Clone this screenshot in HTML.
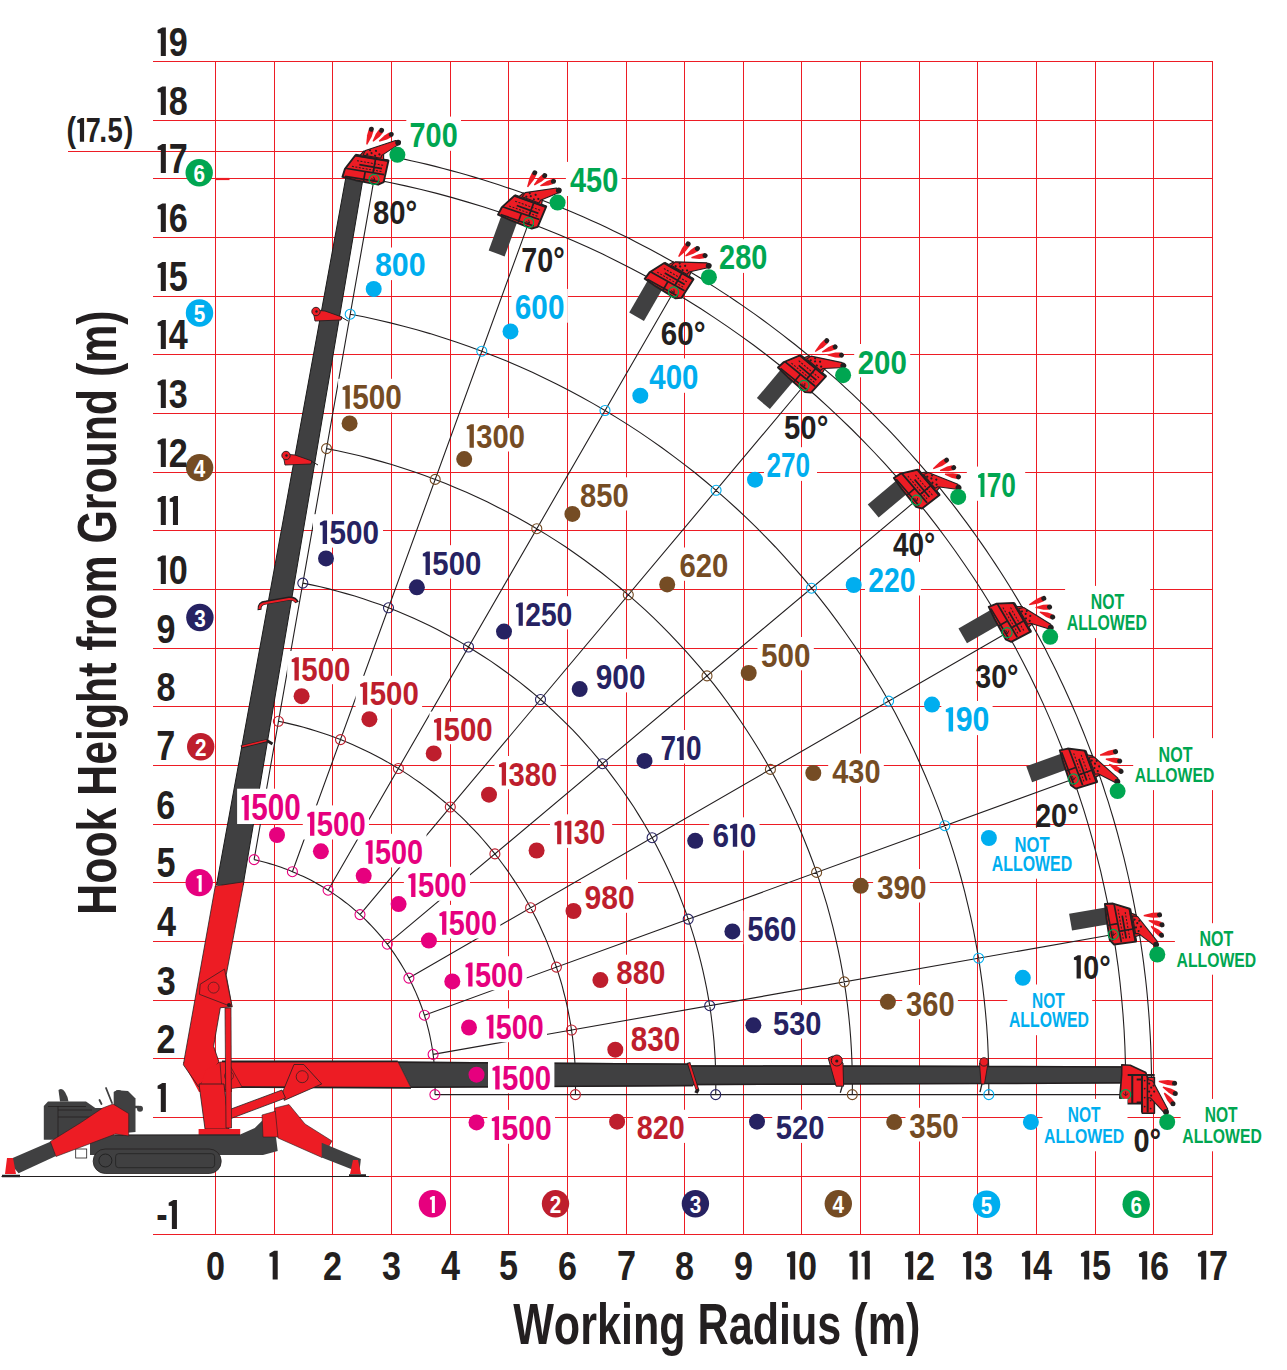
<!DOCTYPE html><html><head><meta charset="utf-8"><style>html,body{margin:0;padding:0;background:#fff;overflow:hidden}svg{display:block}text{font-family:"Liberation Sans",sans-serif;font-weight:bold}</style></head><body><svg width="1287" height="1370" viewBox="0 0 1287 1370" font-family="Liberation Sans, sans-serif" font-weight="bold">
<rect width="1287" height="1370" fill="#fff"/>
<path d="M215.5 61.0V1235.0 M274.5 61.0V1235.0 M332.5 61.0V1235.0 M391.5 61.0V1235.0 M450.5 61.0V1235.0 M508.5 61.0V1235.0 M567.5 61.0V1235.0 M626.5 61.0V1235.0 M684.5 61.0V1235.0 M743.5 61.0V1235.0 M801.5 61.0V1235.0 M860.5 61.0V1235.0 M919.5 61.0V1235.0 M977.5 61.0V1235.0 M1036.5 61.0V1235.0 M1095.5 61.0V1235.0 M1153.5 61.0V1235.0 M1212.5 61.0V1235.0 M153 1234.5H1213.0 M153 1176.5H1213.0 M153 1117.5H1213.0 M153 1058.5H1213.0 M153 1000.5H1213.0 M153 941.5H1213.0 M153 882.5H1213.0 M153 824.5H1213.0 M153 765.5H1213.0 M153 706.5H1213.0 M153 648.5H1213.0 M153 589.5H1213.0 M153 530.5H1213.0 M153 472.5H1213.0 M153 413.5H1213.0 M153 354.5H1213.0 M153 296.5H1213.0 M153 237.5H1213.0 M153 178.5H1213.0 M153 120.5H1213.0 M153 61.5H1213.0 M68 151.5H365" stroke="#ed1c24" stroke-width="1.1" fill="none" shape-rendering="crispEdges"/>
<path d="M215 179H229.5" stroke="#ed1c24" stroke-width="2.2"/>
<path d="M1.5 1176.5H369" stroke="#231f20" stroke-width="1.2"/>
<path d="M434.9 1094.6 L435.1 1090.6 L435.1 1086.5 L435.1 1082.5 L435.1 1078.5 L434.9 1074.5 L434.7 1070.4 L434.4 1066.4 L434.0 1062.4 L433.6 1058.4 L433.1 1054.4 L432.6 1050.4 L431.9 1046.5 L431.2 1042.5 L430.4 1038.5 L429.6 1034.6 L428.7 1030.7 L427.7 1026.8 L426.7 1022.9 L425.5 1019.0 L424.4 1015.2 L423.1 1011.4 L421.8 1007.5 L420.4 1003.8 L419.0 1000.0 L417.4 996.3 L415.9 992.6 L414.2 988.9 L412.5 985.3 L410.7 981.6 L408.9 978.1 L407.0 974.5 L405.1 971.0 L403.0 967.5 L401.0 964.1 L398.8 960.6 L396.6 957.3 L394.4 953.9 L392.1 950.6 L389.7 947.4 L387.3 944.2 L384.8 941.0 L382.2 937.9 L379.6 934.8 L377.0 931.8 L374.3 928.8 L371.5 925.8 L368.7 923.0 L365.9 920.1 L363.0 917.3 L360.0 914.6 L357.0 911.9 L354.0 909.3 L350.9 906.7 L347.8 904.1 L344.6 901.7 L341.4 899.3 L338.1 896.9 L334.8 894.6 L331.5 892.3 L328.1 890.2 L324.7 888.0 L321.2 886.0 L317.7 884.0 L314.2 882.0 L310.7 880.1 L307.1 878.3 L303.5 876.5 L299.8 874.9 L296.1 873.2 L292.4 871.7 L288.7 870.1 L284.9 868.7 L281.1 867.3 L277.3 866.0 L273.5 864.8 L269.6 863.6 L265.8 862.5 L261.9 861.5 L258.0 860.5 L254.1 859.6 M575.4 1094.6 L575.5 1088.1 L575.5 1081.6 L575.4 1075.2 L575.2 1068.7 L574.9 1062.2 L574.4 1055.8 L573.8 1049.3 L573.2 1042.9 L572.4 1036.4 L571.5 1030.0 L570.5 1023.6 L569.3 1017.2 L568.1 1010.9 L566.8 1004.6 L565.3 998.2 L563.7 992.0 L562.1 985.7 L560.3 979.5 L558.4 973.3 L556.4 967.1 L554.3 961.0 L552.0 954.9 L549.7 948.9 L547.3 942.9 L544.8 936.9 L542.1 931.0 L539.4 925.1 L536.6 919.3 L533.6 913.5 L530.6 907.8 L527.4 902.1 L524.2 896.5 L520.9 891.0 L517.4 885.5 L513.9 880.1 L510.3 874.7 L506.6 869.4 L502.8 864.2 L498.9 859.0 L494.9 853.9 L490.8 848.8 L486.6 843.9 L482.4 839.0 L478.1 834.2 L473.6 829.4 L469.1 824.8 L464.6 820.2 L459.9 815.7 L455.2 811.3 L450.3 807.0 L445.5 802.7 L440.5 798.6 L435.5 794.5 L430.4 790.5 L425.2 786.6 L420.0 782.8 L414.6 779.1 L409.3 775.4 L403.8 771.9 L398.4 768.5 L392.8 765.2 L387.2 761.9 L381.5 758.8 L375.8 755.7 L370.0 752.8 L364.2 750.0 L358.3 747.2 L352.4 744.6 L346.5 742.1 L340.5 739.6 L334.4 737.3 L328.3 735.1 L322.2 733.0 L316.0 731.0 L309.9 729.1 L303.6 727.3 L297.4 725.6 L291.1 724.1 L284.8 722.6 L278.4 721.3 M715.7 1094.6 L715.8 1085.7 L715.8 1076.7 L715.5 1067.8 L715.2 1058.9 L714.6 1050.0 L714.0 1041.1 L713.1 1032.2 L712.1 1023.3 L711.0 1014.5 L709.7 1005.7 L708.2 996.9 L706.6 988.1 L704.8 979.3 L702.9 970.6 L700.8 961.9 L698.6 953.3 L696.2 944.7 L693.7 936.1 L691.0 927.6 L688.2 919.1 L685.3 910.7 L682.1 902.4 L678.9 894.0 L675.5 885.8 L671.9 877.6 L668.2 869.5 L664.4 861.4 L660.4 853.4 L656.3 845.5 L652.1 837.7 L647.7 829.9 L643.2 822.2 L638.5 814.6 L633.8 807.0 L628.8 799.6 L623.8 792.2 L618.6 785.0 L613.3 777.8 L607.9 770.7 L602.4 763.7 L596.7 756.8 L590.9 750.0 L585.0 743.3 L579.0 736.7 L572.9 730.2 L566.6 723.9 L560.2 717.6 L553.8 711.4 L547.2 705.4 L540.5 699.5 L533.8 693.7 L526.9 688.0 L519.9 682.4 L512.8 677.0 L505.7 671.7 L498.4 666.5 L491.1 661.4 L483.6 656.5 L476.1 651.7 L468.5 647.0 L460.8 642.4 L453.1 638.0 L445.2 633.8 L437.3 629.6 L429.3 625.6 L421.3 621.8 L413.2 618.1 L405.0 614.5 L396.8 611.1 L388.5 607.8 L380.1 604.6 L371.7 601.7 L363.2 598.8 L354.7 596.1 L346.2 593.6 L337.6 591.2 L328.9 588.9 L320.3 586.8 L311.6 584.9 L302.8 583.1 M852.3 1094.6 L852.4 1083.3 L852.3 1072.0 L851.9 1060.7 L851.4 1049.4 L850.7 1038.1 L849.8 1026.8 L848.7 1015.6 L847.4 1004.3 L845.9 993.1 L844.2 981.9 L842.3 970.8 L840.2 959.7 L837.9 948.6 L835.4 937.6 L832.8 926.6 L829.9 915.6 L826.9 904.7 L823.6 893.9 L820.2 883.1 L816.6 872.4 L812.8 861.8 L808.8 851.2 L804.6 840.7 L800.3 830.2 L795.7 819.9 L791.0 809.6 L786.1 799.4 L781.0 789.3 L775.8 779.3 L770.4 769.4 L764.8 759.5 L759.0 749.8 L753.1 740.2 L747.0 730.7 L740.7 721.2 L734.3 711.9 L727.7 702.7 L721.0 693.7 L714.1 684.7 L707.0 675.9 L699.8 667.2 L692.4 658.6 L684.9 650.2 L677.2 641.8 L669.4 633.6 L661.5 625.6 L653.4 617.7 L645.2 609.9 L636.8 602.3 L628.3 594.8 L619.7 587.5 L611.0 580.4 L602.1 573.3 L593.1 566.5 L584.0 559.8 L574.8 553.2 L565.5 546.8 L556.0 540.6 L546.5 534.6 L536.8 528.7 L527.0 523.0 L517.2 517.4 L507.2 512.1 L497.2 506.9 L487.1 501.8 L476.8 497.0 L466.5 492.3 L456.2 487.9 L445.7 483.6 L435.2 479.4 L424.6 475.5 L413.9 471.8 L403.2 468.2 L392.4 464.8 L381.5 461.6 L370.6 458.6 L359.7 455.8 L348.7 453.2 L337.6 450.8 L326.5 448.6 M988.8 1094.6 L988.8 1080.9 L988.7 1067.2 L988.2 1053.5 L987.6 1039.8 L986.7 1026.2 L985.5 1012.5 L984.1 998.9 L982.5 985.3 L980.6 971.8 L978.6 958.2 L976.2 944.8 L973.7 931.3 L970.9 917.9 L967.8 904.6 L964.6 891.3 L961.1 878.0 L957.4 864.8 L953.4 851.7 L949.2 838.7 L944.8 825.7 L940.2 812.9 L935.3 800.1 L930.2 787.4 L924.9 774.7 L919.4 762.2 L913.7 749.8 L907.7 737.5 L901.5 725.2 L895.2 713.1 L888.6 701.1 L881.8 689.3 L874.7 677.5 L867.5 665.9 L860.1 654.3 L852.5 643.0 L844.7 631.7 L836.7 620.6 L828.5 609.7 L820.1 598.8 L811.5 588.2 L802.8 577.7 L793.8 567.3 L784.7 557.1 L775.4 547.0 L765.9 537.2 L756.3 527.4 L746.5 517.9 L736.5 508.5 L726.4 499.3 L716.1 490.3 L705.6 481.5 L695.0 472.8 L684.2 464.4 L673.3 456.1 L662.3 448.0 L651.1 440.1 L639.8 432.4 L628.3 424.9 L616.7 417.6 L605.0 410.5 L593.2 403.6 L581.3 396.9 L569.2 390.5 L557.0 384.2 L544.7 378.2 L532.3 372.3 L519.9 366.7 L507.3 361.3 L494.6 356.2 L481.8 351.2 L469.0 346.5 L456.1 342.0 L443.1 337.7 L430.0 333.6 L416.8 329.8 L403.6 326.2 L390.4 322.9 L377.0 319.7 L363.7 316.8 L350.2 314.2 M1125.7 1094.6 L1125.7 1078.5 L1125.4 1062.4 L1124.9 1046.4 L1124.1 1030.3 L1123.0 1014.3 L1121.6 998.2 L1120.0 982.2 L1118.1 966.3 L1115.8 950.4 L1113.4 934.5 L1110.6 918.6 L1107.6 902.8 L1104.2 887.1 L1100.7 871.4 L1096.8 855.8 L1092.7 840.3 L1088.3 824.8 L1083.6 809.4 L1078.6 794.1 L1073.4 778.9 L1068.0 763.8 L1062.2 748.8 L1056.2 733.9 L1050.0 719.1 L1043.5 704.4 L1036.7 689.8 L1029.7 675.3 L1022.4 661.0 L1014.9 646.8 L1007.1 632.7 L999.1 618.8 L990.8 605.0 L982.3 591.3 L973.6 577.8 L964.6 564.5 L955.4 551.3 L946.0 538.2 L936.4 525.4 L926.5 512.7 L916.4 500.2 L906.1 487.9 L895.5 475.7 L884.8 463.7 L873.9 452.0 L862.7 440.4 L851.4 429.0 L839.8 417.8 L828.1 406.8 L816.2 396.0 L804.0 385.5 L791.7 375.1 L779.3 365.0 L766.6 355.0 L753.8 345.3 L740.8 335.9 L727.6 326.6 L714.3 317.6 L700.9 308.8 L687.2 300.3 L673.5 292.0 L659.6 283.9 L645.5 276.1 L631.3 268.5 L617.0 261.2 L602.6 254.1 L588.0 247.3 L573.3 240.7 L558.6 234.4 L543.7 228.4 L528.7 222.6 L513.6 217.1 L498.4 211.8 L483.1 206.8 L467.7 202.1 L452.3 197.6 L436.7 193.4 L421.2 189.5 L405.5 185.9 L389.8 182.5 L374.0 179.4 M434.9 1094.6L1125.7 1094.6 M433.1 1054.4L1113.4 934.5 M424.4 1015.2L1073.4 778.9 M408.9 978.1L1007.1 632.7 M387.3 944.2L916.4 500.2 M360.0 914.6L804.0 385.5 M328.1 890.2L673.5 292.0 M292.4 871.7L528.7 222.6 M254.1 859.6L374.0 179.4 M1151.4 1094.8 L1151.5 1086.5 L1151.5 1078.3 L1151.4 1070.0 L1151.2 1061.8 L1151.0 1053.5 L1150.7 1045.2 L1150.3 1037.0 L1149.8 1028.7 L1149.3 1020.5 L1148.7 1012.2 L1148.0 1004.0 L1147.3 995.8 L1146.5 987.5 L1145.6 979.3 L1144.6 971.1 L1143.6 962.9 L1142.5 954.7 L1141.3 946.5 L1140.1 938.4 L1138.8 930.2 L1137.4 922.1 L1135.9 913.9 L1134.4 905.8 L1132.8 897.7 L1131.1 889.6 L1129.4 881.5 L1127.6 873.5 L1125.7 865.4 L1123.8 857.4 L1121.7 849.4 L1119.6 841.4 L1117.5 833.4 L1115.3 825.5 L1113.0 817.5 L1110.6 809.6 L1108.2 801.7 L1105.6 793.8 L1103.1 786.0 L1100.4 778.1 L1097.7 770.3 L1094.9 762.6 L1092.1 754.8 L1089.2 747.1 L1086.2 739.4 L1083.2 731.7 L1080.0 724.0 L1076.9 716.4 L1073.6 708.8 L1070.3 701.2 L1066.9 693.7 L1063.5 686.2 L1059.9 678.7 L1056.4 671.2 L1052.7 663.8 L1049.0 656.4 L1045.3 649.1 L1041.4 641.8 L1037.5 634.5 L1033.6 627.2 L1029.5 620.0 L1025.4 612.8 L1021.3 605.7 L1017.1 598.6 L1012.8 591.5 L1008.5 584.5 L1004.1 577.5 L999.6 570.5 L995.1 563.6 L990.5 556.7 L985.9 549.9 L981.2 543.1 L976.4 536.3 L971.6 529.6 L966.7 522.9 L961.8 516.3 L956.8 509.7 L951.8 503.2 L946.6 496.7 L941.5 490.2 L936.3 483.8 L931.0 477.4 L925.7 471.1 L920.3 464.9 L914.8 458.6 L909.4 452.5 L903.8 446.3 L898.2 440.2 L892.6 434.2 L886.9 428.2 L881.1 422.3 L875.3 416.4 L869.4 410.6 L863.5 404.8 L857.6 399.1 L851.6 393.4 L845.5 387.8 L839.4 382.2 L833.2 376.7 L827.0 371.3 L820.8 365.9 L814.5 360.5 L808.1 355.2 L801.7 350.0 L795.3 344.8 L788.8 339.7 L782.3 334.6 L775.7 329.6 L769.1 324.6 L762.5 319.7 L755.8 314.9 L749.0 310.1 L742.2 305.4 L735.4 300.7 L728.6 296.1 L721.6 291.6 L714.7 287.1 L707.7 282.7 L700.7 278.3 L693.6 274.0 L686.6 269.8 L679.4 265.6 L672.3 261.5 L665.0 257.4 L657.8 253.4 L650.5 249.5 L643.2 245.7 L635.9 241.9 L628.5 238.1 L621.1 234.5 L613.7 230.9 L606.2 227.3 L598.7 223.8 L591.2 220.4 L583.6 217.1 L576.0 213.8 L568.4 210.6 L560.8 207.5 L553.1 204.4 L545.4 201.4 L537.7 198.4 L529.9 195.6 L522.2 192.8 L514.4 190.0 L506.5 187.4 L498.7 184.8 L490.8 182.2 L482.9 179.8 L475.0 177.4 L467.1 175.0 L459.2 172.8 L451.2 170.6 L443.2 168.5 L435.2 166.4 L427.2 164.4 L419.1 162.5 L411.1 160.7 L403.0 158.9 L394.9 157.2" stroke="#231f20" stroke-width="1.1" fill="none"/>
<circle cx="434.9" cy="1094.6" r="5" fill="none" stroke="#e6007e" stroke-width="1.1"/>
<circle cx="433.1" cy="1054.4" r="5" fill="none" stroke="#e6007e" stroke-width="1.1"/>
<circle cx="424.4" cy="1015.2" r="5" fill="none" stroke="#e6007e" stroke-width="1.1"/>
<circle cx="408.9" cy="978.1" r="5" fill="none" stroke="#e6007e" stroke-width="1.1"/>
<circle cx="387.3" cy="944.2" r="5" fill="none" stroke="#e6007e" stroke-width="1.1"/>
<circle cx="360.0" cy="914.6" r="5" fill="none" stroke="#e6007e" stroke-width="1.1"/>
<circle cx="328.1" cy="890.2" r="5" fill="none" stroke="#e6007e" stroke-width="1.1"/>
<circle cx="292.4" cy="871.7" r="5" fill="none" stroke="#e6007e" stroke-width="1.1"/>
<circle cx="254.1" cy="859.6" r="5" fill="none" stroke="#e6007e" stroke-width="1.1"/>
<circle cx="575.4" cy="1094.6" r="5" fill="none" stroke="#be1e2d" stroke-width="1.1"/>
<circle cx="571.5" cy="1030.0" r="5" fill="none" stroke="#be1e2d" stroke-width="1.1"/>
<circle cx="556.4" cy="967.1" r="5" fill="none" stroke="#be1e2d" stroke-width="1.1"/>
<circle cx="530.6" cy="907.8" r="5" fill="none" stroke="#be1e2d" stroke-width="1.1"/>
<circle cx="494.9" cy="853.9" r="5" fill="none" stroke="#be1e2d" stroke-width="1.1"/>
<circle cx="450.3" cy="807.0" r="5" fill="none" stroke="#be1e2d" stroke-width="1.1"/>
<circle cx="398.4" cy="768.5" r="5" fill="none" stroke="#be1e2d" stroke-width="1.1"/>
<circle cx="340.5" cy="739.6" r="5" fill="none" stroke="#be1e2d" stroke-width="1.1"/>
<circle cx="278.4" cy="721.3" r="5" fill="none" stroke="#be1e2d" stroke-width="1.1"/>
<circle cx="715.7" cy="1094.6" r="5" fill="none" stroke="#262262" stroke-width="1.1"/>
<circle cx="709.7" cy="1005.7" r="5" fill="none" stroke="#262262" stroke-width="1.1"/>
<circle cx="688.2" cy="919.1" r="5" fill="none" stroke="#262262" stroke-width="1.1"/>
<circle cx="652.1" cy="837.7" r="5" fill="none" stroke="#262262" stroke-width="1.1"/>
<circle cx="602.4" cy="763.7" r="5" fill="none" stroke="#262262" stroke-width="1.1"/>
<circle cx="540.5" cy="699.5" r="5" fill="none" stroke="#262262" stroke-width="1.1"/>
<circle cx="468.5" cy="647.0" r="5" fill="none" stroke="#262262" stroke-width="1.1"/>
<circle cx="388.5" cy="607.8" r="5" fill="none" stroke="#262262" stroke-width="1.1"/>
<circle cx="302.8" cy="583.1" r="5" fill="none" stroke="#262262" stroke-width="1.1"/>
<circle cx="852.3" cy="1094.6" r="5" fill="none" stroke="#754c24" stroke-width="1.1"/>
<circle cx="844.2" cy="981.9" r="5" fill="none" stroke="#754c24" stroke-width="1.1"/>
<circle cx="816.6" cy="872.4" r="5" fill="none" stroke="#754c24" stroke-width="1.1"/>
<circle cx="770.4" cy="769.4" r="5" fill="none" stroke="#754c24" stroke-width="1.1"/>
<circle cx="707.0" cy="675.9" r="5" fill="none" stroke="#754c24" stroke-width="1.1"/>
<circle cx="628.3" cy="594.8" r="5" fill="none" stroke="#754c24" stroke-width="1.1"/>
<circle cx="536.8" cy="528.7" r="5" fill="none" stroke="#754c24" stroke-width="1.1"/>
<circle cx="435.2" cy="479.4" r="5" fill="none" stroke="#754c24" stroke-width="1.1"/>
<circle cx="326.5" cy="448.6" r="5" fill="none" stroke="#754c24" stroke-width="1.1"/>
<circle cx="988.8" cy="1094.6" r="5" fill="none" stroke="#00aeef" stroke-width="1.1"/>
<circle cx="978.6" cy="958.2" r="5" fill="none" stroke="#00aeef" stroke-width="1.1"/>
<circle cx="944.8" cy="825.7" r="5" fill="none" stroke="#00aeef" stroke-width="1.1"/>
<circle cx="888.6" cy="701.1" r="5" fill="none" stroke="#00aeef" stroke-width="1.1"/>
<circle cx="811.5" cy="588.2" r="5" fill="none" stroke="#00aeef" stroke-width="1.1"/>
<circle cx="716.1" cy="490.3" r="5" fill="none" stroke="#00aeef" stroke-width="1.1"/>
<circle cx="605.0" cy="410.5" r="5" fill="none" stroke="#00aeef" stroke-width="1.1"/>
<circle cx="481.8" cy="351.2" r="5" fill="none" stroke="#00aeef" stroke-width="1.1"/>
<circle cx="350.2" cy="314.2" r="5" fill="none" stroke="#00aeef" stroke-width="1.1"/>
<circle cx="1125.7" cy="1094.6" r="5" fill="none" stroke="#00a651" stroke-width="1.1"/>
<circle cx="1113.4" cy="934.5" r="5" fill="none" stroke="#00a651" stroke-width="1.1"/>
<circle cx="1073.4" cy="778.9" r="5" fill="none" stroke="#00a651" stroke-width="1.1"/>
<circle cx="1007.1" cy="632.7" r="5" fill="none" stroke="#00a651" stroke-width="1.1"/>
<circle cx="916.4" cy="500.2" r="5" fill="none" stroke="#00a651" stroke-width="1.1"/>
<circle cx="804.0" cy="385.5" r="5" fill="none" stroke="#00a651" stroke-width="1.1"/>
<circle cx="673.5" cy="292.0" r="5" fill="none" stroke="#00a651" stroke-width="1.1"/>
<circle cx="528.7" cy="222.6" r="5" fill="none" stroke="#00a651" stroke-width="1.1"/>
<circle cx="374.0" cy="179.4" r="5" fill="none" stroke="#00a651" stroke-width="1.1"/>
<g><polygon points="346.4,174.5 363.2,177.5 243.1,885.0 216.5,885.0" fill="#404041"/><path d="M346.4 174.5 L216.5 885 M363.2 177.5 L243.1 885" stroke="#1a1a1a" stroke-width="1"/><polygon points="313.0,310.0 325.0,311.0 342.0,317.0 341.0,320.0 315.0,321.0" fill="#ed1c24" stroke="#231f20" stroke-width="0.9" stroke-linejoin="round"/><circle cx="316" cy="311.5" r="4.2" fill="#ed1c24" stroke="#231f20" stroke-width="0.9"/><circle cx="316.5" cy="311.5" r="1.2" fill="#231f20"/><path d="M341 317 L348 321" stroke="#231f20" stroke-width="1"/><polygon points="283.0,454.0 295.0,455.0 312.0,461.0 311.0,464.0 285.0,465.0" fill="#ed1c24" stroke="#231f20" stroke-width="0.9" stroke-linejoin="round"/><circle cx="286" cy="455.5" r="4.2" fill="#ed1c24" stroke="#231f20" stroke-width="0.9"/><circle cx="286.5" cy="455.5" r="1.2" fill="#231f20"/><path d="M311 461 L318 465" stroke="#231f20" stroke-width="1"/><path d="M259.5 610 Q259 603 266 602.5 L289 598.5 Q295 598 297 602.5" fill="none" stroke="#231f20" stroke-width="4"/><path d="M259.5 609 Q259.5 603.5 266 603 L289 599 Q294.5 598.8 296 602" fill="none" stroke="#ed1c24" stroke-width="2.2"/><path d="M241 747 L267 740.5 L272.5 744" fill="none" stroke="#231f20" stroke-width="3"/><path d="M242 746.5 L266.5 740.5" fill="none" stroke="#ed1c24" stroke-width="1.6"/><polygon points="183.0,1062.0 232.0,1062.0 232.0,1092.0 199.0,1092.0" fill="#ed1c24"/><polygon points="215.3,886.0 243.9,881.8 226.2,975.0 232.1,1006.9 220.3,1007.7 213.6,1046.3 219.0,1062.0 198.5,1086.7 183.4,1064.8 185.1,1054.7" fill="#ed1c24" stroke="#231f20" stroke-width="0.8" stroke-linejoin="round"/><polygon points="200.2,984.2 224.5,969.1 232.1,1006.9 199.4,994.3" fill="#ed1c24" stroke="#231f20" stroke-width="0.7" stroke-linejoin="round"/><circle cx="213.6" cy="987.6" r="5.5" fill="none" stroke="#231f20" stroke-width="0.6"/><circle cx="229" cy="1005" r="2" fill="#231f20"/><polygon points="397.8,1061.4 690.0,1063.6 690.0,1065.3 835.0,1065.3 985.0,1065.8 985.0,1066.3 1121.8,1066.3 1121.8,1083.4 985.0,1083.4 985.0,1084.0 835.0,1084.2 835.0,1085.0 693.0,1085.2 693.0,1086.2 411.0,1087.8" fill="#404041"/><path d="M397.8 1062.2 L690 1064.3 M690 1066 L985 1066.5 L1121.8 1067 M411 1087.2 L693 1085.6 M693 1084.6 L985 1083.6 L1121.8 1082.8" stroke="#231f20" stroke-width="1.5" fill="none"/><path d="M688.5 1062.5 L697.5 1090 L696 1093" stroke="#231f20" stroke-width="3.6" fill="none"/><path d="M689 1063.5 L697 1089" stroke="#ed1c24" stroke-width="2" fill="none"/><polygon points="828.2,1058.0 833.0,1056.0 843.0,1063.0 843.6,1086.2 836.1,1086.2" fill="#ed1c24" stroke="#231f20" stroke-width="1" stroke-linejoin="round"/><circle cx="836.8" cy="1060.5" r="5.5" fill="#ed1c24" stroke="#231f20" stroke-width="1"/><circle cx="836.8" cy="1061" r="1.6" fill="#231f20"/><path d="M842.2 1086.2 L840.3 1092.7" stroke="#231f20" stroke-width="1.3"/><polygon points="979.5,1063.0 988.0,1063.0 984.5,1084.0 981.0,1084.0" fill="#ed1c24" stroke="#231f20" stroke-width="0.9" stroke-linejoin="round"/><circle cx="984" cy="1061.9" r="4.2" fill="#ed1c24" stroke="#231f20" stroke-width="0.9"/><path d="M981.9 1084 L980 1092.2" stroke="#231f20" stroke-width="1.3"/><polygon points="222.0,1061.5 397.8,1061.4 411.0,1087.8 200.0,1087.5 206.0,1070.0" fill="#ed1c24"/><path d="M222 1061.5 L397.8 1061.4 M214.5 1087 L411 1087.8" stroke="#231f20" stroke-width="1.8"/><path d="M397.8 1061.4 L411 1087.8" stroke="#231f20" stroke-width="0.8"/><polygon points="294.0,1064.5 303.8,1064.5 321.7,1084.0 284.2,1100.4 282.6,1092.2" fill="#ed1c24" stroke="#231f20" stroke-width="0.8" stroke-linejoin="round"/><circle cx="302.2" cy="1076.7" r="6" fill="none" stroke="#231f20" stroke-width="0.7"/><polygon points="220.0,1062.0 228.0,1062.0 242.0,1087.0 222.0,1090.0" fill="#ed1c24" stroke="#231f20" stroke-width="0.6" stroke-linejoin="round"/><circle cx="229" cy="1076" r="4.5" fill="none" stroke="#231f20" stroke-width="0.6"/><polygon points="223.0,1112.0 282.0,1090.0 285.5,1098.0 227.0,1120.0" fill="#ed1c24" stroke="#231f20" stroke-width="0.8" stroke-linejoin="round"/><polygon points="199.0,1084.0 224.0,1084.0 229.0,1129.0 205.0,1129.0" fill="#ed1c24" stroke="#231f20" stroke-width="0.8" stroke-linejoin="round"/><polygon points="198.6,1128.9 240.2,1128.9 240.2,1135.5 198.6,1135.5" fill="#ed1c24"/><polygon points="225.0,1008.0 231.0,1008.0 231.5,1128.0 226.0,1128.0" fill="#ed1c24" stroke="#231f20" stroke-width="0.7" stroke-linejoin="round"/><polygon points="90.0,1135.0 240.2,1134.6 254.8,1128.1 264.6,1118.3 276.1,1137.9 277.7,1151.0 263.0,1155.0 90.0,1155.0" fill="#404041"/><path d="M115 1135 H240" stroke="#231f20" stroke-width="1"/><rect x="93.2" y="1149" width="128" height="24.5" rx="12" fill="#404041" stroke="#231f20" stroke-width="0.8"/><rect x="115.6" y="1153.7" width="99" height="14" rx="3" fill="none" stroke="#222" stroke-width="0.8"/><circle cx="105.4" cy="1160.5" r="6.5" fill="none" stroke="#222" stroke-width="1"/><path d="M43.8 1106 L48 1101.4 H86 L95.3 1108 H114 V1139.7 H43.8 Z" fill="#404041"/><path d="M58.5 1090 Q62 1087 65 1092 Q68 1097 68.5 1101.5 L60 1101.5 Z" fill="#404041"/><path d="M48 1106.5 H86 M58 1110 H92 M58 1117 H96 M58 1106 V1140" stroke="#231f20" stroke-width="0.8" fill="none"/><polygon points="113.7,1092.0 117.0,1090.3 128.0,1091.0 135.5,1098.6 135.5,1132.0 113.7,1134.0" fill="#404041"/><circle cx="118.5" cy="1094.5" r="4.5" fill="#404041"/><path d="M135 1107 H139" stroke="#404041" stroke-width="2.5"/><circle cx="140" cy="1108.8" r="3" fill="#404041"/><path d="M106 1088 L112 1103 M99.5 1100 L101.5 1104" stroke="#404041" stroke-width="1.8" stroke-linecap="round"/><rect x="75.7" y="1149" width="11" height="9" fill="#fff" stroke="#231f20" stroke-width="0.8"/><polygon points="7.5,1160.2 52.0,1141.0 56.0,1156.0 18.6,1173.2" fill="#404041"/><polygon points="50.3,1141.5 80.2,1123.0 102.6,1108.0 113.0,1104.0 128.7,1113.6 128.7,1136.0 115.6,1134.0 56.0,1156.5" fill="#ed1c24" stroke="#231f20" stroke-width="0.6" stroke-linejoin="round"/><polygon points="7.0,1158.0 13.0,1158.0 16.0,1174.0 5.0,1174.0" fill="#ed1c24"/><path d="M2 1176 H20" stroke="#231f20" stroke-width="2.5"/><polygon points="262.0,1115.0 276.0,1111.0 279.0,1137.0 263.0,1137.0" fill="#ed1c24" stroke="#231f20" stroke-width="0.6" stroke-linejoin="round"/><polygon points="275.0,1108.0 289.0,1104.5 305.0,1124.0 332.0,1141.0 322.0,1157.5 278.0,1138.0" fill="#ed1c24" stroke="#231f20" stroke-width="0.6" stroke-linejoin="round"/><polygon points="321.7,1142.8 360.9,1159.1 359.3,1172.2 321.7,1157.5" fill="#404041"/><polygon points="353.0,1160.0 358.0,1160.0 361.0,1174.0 350.0,1174.0" fill="#ed1c24"/><path d="M349 1175.5 H366" stroke="#231f20" stroke-width="2.5"/><g transform="translate(373.99,179.39) rotate(-80)"><polygon points="-3.0,-31.5 5.0,-30.5 20.5,-22.5 21.0,11.0 -1.0,10.0 -4.5,5.0 -4.0,-18.0" fill="#ed1c24" stroke="#231f20" stroke-width="1.9" stroke-linejoin="round"/><polygon points="5.5,-29.0 19.5,-21.5 20.0,-18.0 7.0,-18.0" fill="#ed1c24"/><path d="M6 -30 L6.5 9 M-3.5 -10 L6 -10 M12 -17 L12 6 M6 -2 H20 M-2 -29 L-1.5 6" stroke="#231f20" stroke-width="1.7" fill="none"/><path d="M9 -24 V7 M15.5 -20 V8" stroke="#231f20" stroke-width="1" stroke-dasharray="2 1.5" fill="none"/><path d="M20.7 -22.5 L20.9 11" stroke="#231f20" stroke-width="2.6" fill="none"/><polygon points="21.0,-18.0 26.0,-15.0 27.0,5.0 21.0,6.0" fill="#ed1c24" stroke="#231f20" stroke-width="1.2" stroke-linejoin="round"/><path d="M23.5 -14 V3 M21.5 -6 H27" stroke="#231f20" stroke-width="0.9" stroke-dasharray="1.5 1.5" fill="none"/><polygon points="22.0,-15.0 27.0,-13.5 42.0,14.5 39.5,19.2 36.6,16.0 25.0,3.5 22.0,3.0" fill="#ed1c24" stroke="#231f20" stroke-width="1.1" stroke-linejoin="round"/><circle cx="23.5" cy="-11" r="1.1" fill="#231f20"/><circle cx="25.5" cy="-7" r="1.1" fill="#231f20"/><circle cx="23.5" cy="-3" r="1.1" fill="#231f20"/><circle cx="25.5" cy="1" r="1.1" fill="#231f20"/><circle cx="28" cy="-9" r="1.1" fill="#231f20"/><circle cx="28.5" cy="-3" r="1.1" fill="#231f20"/><circle cx="40.4" cy="17.4" r="2.9" fill="#231f20"/><polygon points="33.0,-12.6 41.7,-9.7 47.6,-8.9 48.2,-13.9 42.3,-14.5 33.2,-13.8" fill="#ed1c24"/><circle cx="48.9" cy="-11.3" r="2.5" fill="#231f20"/><polygon points="36.9,-7.1 43.0,-1.8 47.5,0.8 49.9,-3.8 45.2,-6.1 37.5,-8.1" fill="#ed1c24"/><circle cx="49.6" cy="-1.0" r="2.5" fill="#231f20"/><polygon points="38.1,-1.2 41.6,5.9 44.7,10.0 48.7,6.8 45.3,2.9 39.1,-2.0" fill="#ed1c24"/><circle cx="47.3" cy="9.2" r="2.5" fill="#231f20"/><circle cx="0" cy="0" r="5" fill="none" stroke="#00a651" stroke-width="1.2"/><path d="M-2.5 -1 L0 1 L2.5 -1 M0 1 V-3" stroke="#231f20" stroke-width="0.8" fill="none"/></g><g transform="translate(528.66,222.58) rotate(-70)"><polygon points="-40.0,-28.0 -40.0,-11.0 -3.0,-11.0 -3.0,-28.0" fill="#404041"/><polygon points="-3.0,-31.5 5.0,-30.5 20.5,-22.5 21.0,11.0 -1.0,10.0 -4.5,5.0 -4.0,-18.0" fill="#ed1c24" stroke="#231f20" stroke-width="1.9" stroke-linejoin="round"/><polygon points="5.5,-29.0 19.5,-21.5 20.0,-18.0 7.0,-18.0" fill="#ed1c24"/><path d="M6 -30 L6.5 9 M-3.5 -10 L6 -10 M12 -17 L12 6 M6 -2 H20 M-2 -29 L-1.5 6" stroke="#231f20" stroke-width="1.7" fill="none"/><path d="M9 -24 V7 M15.5 -20 V8" stroke="#231f20" stroke-width="1" stroke-dasharray="2 1.5" fill="none"/><path d="M20.7 -22.5 L20.9 11" stroke="#231f20" stroke-width="2.6" fill="none"/><polygon points="21.0,-18.0 26.0,-15.0 27.0,5.0 21.0,6.0" fill="#ed1c24" stroke="#231f20" stroke-width="1.2" stroke-linejoin="round"/><path d="M23.5 -14 V3 M21.5 -6 H27" stroke="#231f20" stroke-width="0.9" stroke-dasharray="1.5 1.5" fill="none"/><polygon points="22.0,-15.0 27.0,-13.5 42.0,14.5 39.5,19.2 36.6,16.0 25.0,3.5 22.0,3.0" fill="#ed1c24" stroke="#231f20" stroke-width="1.1" stroke-linejoin="round"/><circle cx="23.5" cy="-11" r="1.1" fill="#231f20"/><circle cx="25.5" cy="-7" r="1.1" fill="#231f20"/><circle cx="23.5" cy="-3" r="1.1" fill="#231f20"/><circle cx="25.5" cy="1" r="1.1" fill="#231f20"/><circle cx="28" cy="-9" r="1.1" fill="#231f20"/><circle cx="28.5" cy="-3" r="1.1" fill="#231f20"/><circle cx="40.4" cy="17.4" r="2.9" fill="#231f20"/><polygon points="33.0,-12.6 41.7,-9.7 47.6,-8.9 48.2,-13.9 42.3,-14.5 33.2,-13.8" fill="#ed1c24"/><circle cx="48.9" cy="-11.3" r="2.5" fill="#231f20"/><polygon points="36.9,-7.1 43.0,-1.8 47.5,0.8 49.9,-3.8 45.2,-6.1 37.5,-8.1" fill="#ed1c24"/><circle cx="49.6" cy="-1.0" r="2.5" fill="#231f20"/><polygon points="38.1,-1.2 41.6,5.9 44.7,10.0 48.7,6.8 45.3,2.9 39.1,-2.0" fill="#ed1c24"/><circle cx="47.3" cy="9.2" r="2.5" fill="#231f20"/><circle cx="0" cy="0" r="5" fill="none" stroke="#00a651" stroke-width="1.2"/><path d="M-2.5 -1 L0 1 L2.5 -1 M0 1 V-3" stroke="#231f20" stroke-width="0.8" fill="none"/></g><g transform="translate(673.47,291.97) rotate(-60)"><polygon points="-40.0,-28.0 -40.0,-11.0 -3.0,-11.0 -3.0,-28.0" fill="#404041"/><polygon points="-3.0,-31.5 5.0,-30.5 20.5,-22.5 21.0,11.0 -1.0,10.0 -4.5,5.0 -4.0,-18.0" fill="#ed1c24" stroke="#231f20" stroke-width="1.9" stroke-linejoin="round"/><polygon points="5.5,-29.0 19.5,-21.5 20.0,-18.0 7.0,-18.0" fill="#ed1c24"/><path d="M6 -30 L6.5 9 M-3.5 -10 L6 -10 M12 -17 L12 6 M6 -2 H20 M-2 -29 L-1.5 6" stroke="#231f20" stroke-width="1.7" fill="none"/><path d="M9 -24 V7 M15.5 -20 V8" stroke="#231f20" stroke-width="1" stroke-dasharray="2 1.5" fill="none"/><path d="M20.7 -22.5 L20.9 11" stroke="#231f20" stroke-width="2.6" fill="none"/><polygon points="21.0,-18.0 26.0,-15.0 27.0,5.0 21.0,6.0" fill="#ed1c24" stroke="#231f20" stroke-width="1.2" stroke-linejoin="round"/><path d="M23.5 -14 V3 M21.5 -6 H27" stroke="#231f20" stroke-width="0.9" stroke-dasharray="1.5 1.5" fill="none"/><polygon points="22.0,-15.0 27.0,-13.5 42.0,14.5 39.5,19.2 36.6,16.0 25.0,3.5 22.0,3.0" fill="#ed1c24" stroke="#231f20" stroke-width="1.1" stroke-linejoin="round"/><circle cx="23.5" cy="-11" r="1.1" fill="#231f20"/><circle cx="25.5" cy="-7" r="1.1" fill="#231f20"/><circle cx="23.5" cy="-3" r="1.1" fill="#231f20"/><circle cx="25.5" cy="1" r="1.1" fill="#231f20"/><circle cx="28" cy="-9" r="1.1" fill="#231f20"/><circle cx="28.5" cy="-3" r="1.1" fill="#231f20"/><circle cx="40.4" cy="17.4" r="2.9" fill="#231f20"/><polygon points="33.0,-12.6 41.7,-9.7 47.6,-8.9 48.2,-13.9 42.3,-14.5 33.2,-13.8" fill="#ed1c24"/><circle cx="48.9" cy="-11.3" r="2.5" fill="#231f20"/><polygon points="36.9,-7.1 43.0,-1.8 47.5,0.8 49.9,-3.8 45.2,-6.1 37.5,-8.1" fill="#ed1c24"/><circle cx="49.6" cy="-1.0" r="2.5" fill="#231f20"/><polygon points="38.1,-1.2 41.6,5.9 44.7,10.0 48.7,6.8 45.3,2.9 39.1,-2.0" fill="#ed1c24"/><circle cx="47.3" cy="9.2" r="2.5" fill="#231f20"/><circle cx="0" cy="0" r="5" fill="none" stroke="#00a651" stroke-width="1.2"/><path d="M-2.5 -1 L0 1 L2.5 -1 M0 1 V-3" stroke="#231f20" stroke-width="0.8" fill="none"/></g><g transform="translate(804.04,385.45) rotate(-50)"><polygon points="-40.0,-28.0 -40.0,-11.0 -3.0,-11.0 -3.0,-28.0" fill="#404041"/><polygon points="-3.0,-31.5 5.0,-30.5 20.5,-22.5 21.0,11.0 -1.0,10.0 -4.5,5.0 -4.0,-18.0" fill="#ed1c24" stroke="#231f20" stroke-width="1.9" stroke-linejoin="round"/><polygon points="5.5,-29.0 19.5,-21.5 20.0,-18.0 7.0,-18.0" fill="#ed1c24"/><path d="M6 -30 L6.5 9 M-3.5 -10 L6 -10 M12 -17 L12 6 M6 -2 H20 M-2 -29 L-1.5 6" stroke="#231f20" stroke-width="1.7" fill="none"/><path d="M9 -24 V7 M15.5 -20 V8" stroke="#231f20" stroke-width="1" stroke-dasharray="2 1.5" fill="none"/><path d="M20.7 -22.5 L20.9 11" stroke="#231f20" stroke-width="2.6" fill="none"/><polygon points="21.0,-18.0 26.0,-15.0 27.0,5.0 21.0,6.0" fill="#ed1c24" stroke="#231f20" stroke-width="1.2" stroke-linejoin="round"/><path d="M23.5 -14 V3 M21.5 -6 H27" stroke="#231f20" stroke-width="0.9" stroke-dasharray="1.5 1.5" fill="none"/><polygon points="22.0,-15.0 27.0,-13.5 42.0,14.5 39.5,19.2 36.6,16.0 25.0,3.5 22.0,3.0" fill="#ed1c24" stroke="#231f20" stroke-width="1.1" stroke-linejoin="round"/><circle cx="23.5" cy="-11" r="1.1" fill="#231f20"/><circle cx="25.5" cy="-7" r="1.1" fill="#231f20"/><circle cx="23.5" cy="-3" r="1.1" fill="#231f20"/><circle cx="25.5" cy="1" r="1.1" fill="#231f20"/><circle cx="28" cy="-9" r="1.1" fill="#231f20"/><circle cx="28.5" cy="-3" r="1.1" fill="#231f20"/><circle cx="40.4" cy="17.4" r="2.9" fill="#231f20"/><polygon points="33.0,-12.6 41.7,-9.7 47.6,-8.9 48.2,-13.9 42.3,-14.5 33.2,-13.8" fill="#ed1c24"/><circle cx="48.9" cy="-11.3" r="2.5" fill="#231f20"/><polygon points="36.9,-7.1 43.0,-1.8 47.5,0.8 49.9,-3.8 45.2,-6.1 37.5,-8.1" fill="#ed1c24"/><circle cx="49.6" cy="-1.0" r="2.5" fill="#231f20"/><polygon points="38.1,-1.2 41.6,5.9 44.7,10.0 48.7,6.8 45.3,2.9 39.1,-2.0" fill="#ed1c24"/><circle cx="47.3" cy="9.2" r="2.5" fill="#231f20"/><circle cx="0" cy="0" r="5" fill="none" stroke="#00a651" stroke-width="1.2"/><path d="M-2.5 -1 L0 1 L2.5 -1 M0 1 V-3" stroke="#231f20" stroke-width="0.8" fill="none"/></g><g transform="translate(916.38,500.19) rotate(-40)"><polygon points="-40.0,-28.0 -40.0,-11.0 -3.0,-11.0 -3.0,-28.0" fill="#404041"/><polygon points="-3.0,-31.5 5.0,-30.5 20.5,-22.5 21.0,11.0 -1.0,10.0 -4.5,5.0 -4.0,-18.0" fill="#ed1c24" stroke="#231f20" stroke-width="1.9" stroke-linejoin="round"/><polygon points="5.5,-29.0 19.5,-21.5 20.0,-18.0 7.0,-18.0" fill="#ed1c24"/><path d="M6 -30 L6.5 9 M-3.5 -10 L6 -10 M12 -17 L12 6 M6 -2 H20 M-2 -29 L-1.5 6" stroke="#231f20" stroke-width="1.7" fill="none"/><path d="M9 -24 V7 M15.5 -20 V8" stroke="#231f20" stroke-width="1" stroke-dasharray="2 1.5" fill="none"/><path d="M20.7 -22.5 L20.9 11" stroke="#231f20" stroke-width="2.6" fill="none"/><polygon points="21.0,-18.0 26.0,-15.0 27.0,5.0 21.0,6.0" fill="#ed1c24" stroke="#231f20" stroke-width="1.2" stroke-linejoin="round"/><path d="M23.5 -14 V3 M21.5 -6 H27" stroke="#231f20" stroke-width="0.9" stroke-dasharray="1.5 1.5" fill="none"/><polygon points="22.0,-15.0 27.0,-13.5 42.0,14.5 39.5,19.2 36.6,16.0 25.0,3.5 22.0,3.0" fill="#ed1c24" stroke="#231f20" stroke-width="1.1" stroke-linejoin="round"/><circle cx="23.5" cy="-11" r="1.1" fill="#231f20"/><circle cx="25.5" cy="-7" r="1.1" fill="#231f20"/><circle cx="23.5" cy="-3" r="1.1" fill="#231f20"/><circle cx="25.5" cy="1" r="1.1" fill="#231f20"/><circle cx="28" cy="-9" r="1.1" fill="#231f20"/><circle cx="28.5" cy="-3" r="1.1" fill="#231f20"/><circle cx="40.4" cy="17.4" r="2.9" fill="#231f20"/><polygon points="33.0,-12.6 41.7,-9.7 47.6,-8.9 48.2,-13.9 42.3,-14.5 33.2,-13.8" fill="#ed1c24"/><circle cx="48.9" cy="-11.3" r="2.5" fill="#231f20"/><polygon points="36.9,-7.1 43.0,-1.8 47.5,0.8 49.9,-3.8 45.2,-6.1 37.5,-8.1" fill="#ed1c24"/><circle cx="49.6" cy="-1.0" r="2.5" fill="#231f20"/><polygon points="38.1,-1.2 41.6,5.9 44.7,10.0 48.7,6.8 45.3,2.9 39.1,-2.0" fill="#ed1c24"/><circle cx="47.3" cy="9.2" r="2.5" fill="#231f20"/><circle cx="0" cy="0" r="5" fill="none" stroke="#00a651" stroke-width="1.2"/><path d="M-2.5 -1 L0 1 L2.5 -1 M0 1 V-3" stroke="#231f20" stroke-width="0.8" fill="none"/></g><g transform="translate(1007.10,632.69) rotate(-30)"><polygon points="-40.0,-28.0 -40.0,-11.0 -3.0,-11.0 -3.0,-28.0" fill="#404041"/><polygon points="-3.0,-31.5 5.0,-30.5 20.5,-22.5 21.0,11.0 -1.0,10.0 -4.5,5.0 -4.0,-18.0" fill="#ed1c24" stroke="#231f20" stroke-width="1.9" stroke-linejoin="round"/><polygon points="5.5,-29.0 19.5,-21.5 20.0,-18.0 7.0,-18.0" fill="#ed1c24"/><path d="M6 -30 L6.5 9 M-3.5 -10 L6 -10 M12 -17 L12 6 M6 -2 H20 M-2 -29 L-1.5 6" stroke="#231f20" stroke-width="1.7" fill="none"/><path d="M9 -24 V7 M15.5 -20 V8" stroke="#231f20" stroke-width="1" stroke-dasharray="2 1.5" fill="none"/><path d="M20.7 -22.5 L20.9 11" stroke="#231f20" stroke-width="2.6" fill="none"/><polygon points="21.0,-18.0 26.0,-15.0 27.0,5.0 21.0,6.0" fill="#ed1c24" stroke="#231f20" stroke-width="1.2" stroke-linejoin="round"/><path d="M23.5 -14 V3 M21.5 -6 H27" stroke="#231f20" stroke-width="0.9" stroke-dasharray="1.5 1.5" fill="none"/><polygon points="22.0,-15.0 27.0,-13.5 42.0,14.5 39.5,19.2 36.6,16.0 25.0,3.5 22.0,3.0" fill="#ed1c24" stroke="#231f20" stroke-width="1.1" stroke-linejoin="round"/><circle cx="23.5" cy="-11" r="1.1" fill="#231f20"/><circle cx="25.5" cy="-7" r="1.1" fill="#231f20"/><circle cx="23.5" cy="-3" r="1.1" fill="#231f20"/><circle cx="25.5" cy="1" r="1.1" fill="#231f20"/><circle cx="28" cy="-9" r="1.1" fill="#231f20"/><circle cx="28.5" cy="-3" r="1.1" fill="#231f20"/><circle cx="40.4" cy="17.4" r="2.9" fill="#231f20"/><polygon points="33.0,-12.6 41.7,-9.7 47.6,-8.9 48.2,-13.9 42.3,-14.5 33.2,-13.8" fill="#ed1c24"/><circle cx="48.9" cy="-11.3" r="2.5" fill="#231f20"/><polygon points="36.9,-7.1 43.0,-1.8 47.5,0.8 49.9,-3.8 45.2,-6.1 37.5,-8.1" fill="#ed1c24"/><circle cx="49.6" cy="-1.0" r="2.5" fill="#231f20"/><polygon points="38.1,-1.2 41.6,5.9 44.7,10.0 48.7,6.8 45.3,2.9 39.1,-2.0" fill="#ed1c24"/><circle cx="47.3" cy="9.2" r="2.5" fill="#231f20"/><circle cx="0" cy="0" r="5" fill="none" stroke="#00a651" stroke-width="1.2"/><path d="M-2.5 -1 L0 1 L2.5 -1 M0 1 V-3" stroke="#231f20" stroke-width="0.8" fill="none"/></g><g transform="translate(1073.43,778.93) rotate(-20)"><polygon points="-40.0,-28.0 -40.0,-11.0 -3.0,-11.0 -3.0,-28.0" fill="#404041"/><polygon points="-3.0,-31.5 5.0,-30.5 20.5,-22.5 21.0,11.0 -1.0,10.0 -4.5,5.0 -4.0,-18.0" fill="#ed1c24" stroke="#231f20" stroke-width="1.9" stroke-linejoin="round"/><polygon points="5.5,-29.0 19.5,-21.5 20.0,-18.0 7.0,-18.0" fill="#ed1c24"/><path d="M6 -30 L6.5 9 M-3.5 -10 L6 -10 M12 -17 L12 6 M6 -2 H20 M-2 -29 L-1.5 6" stroke="#231f20" stroke-width="1.7" fill="none"/><path d="M9 -24 V7 M15.5 -20 V8" stroke="#231f20" stroke-width="1" stroke-dasharray="2 1.5" fill="none"/><path d="M20.7 -22.5 L20.9 11" stroke="#231f20" stroke-width="2.6" fill="none"/><polygon points="21.0,-18.0 26.0,-15.0 27.0,5.0 21.0,6.0" fill="#ed1c24" stroke="#231f20" stroke-width="1.2" stroke-linejoin="round"/><path d="M23.5 -14 V3 M21.5 -6 H27" stroke="#231f20" stroke-width="0.9" stroke-dasharray="1.5 1.5" fill="none"/><polygon points="22.0,-15.0 27.0,-13.5 42.0,14.5 39.5,19.2 36.6,16.0 25.0,3.5 22.0,3.0" fill="#ed1c24" stroke="#231f20" stroke-width="1.1" stroke-linejoin="round"/><circle cx="23.5" cy="-11" r="1.1" fill="#231f20"/><circle cx="25.5" cy="-7" r="1.1" fill="#231f20"/><circle cx="23.5" cy="-3" r="1.1" fill="#231f20"/><circle cx="25.5" cy="1" r="1.1" fill="#231f20"/><circle cx="28" cy="-9" r="1.1" fill="#231f20"/><circle cx="28.5" cy="-3" r="1.1" fill="#231f20"/><circle cx="40.4" cy="17.4" r="2.9" fill="#231f20"/><polygon points="33.0,-12.6 41.7,-9.7 47.6,-8.9 48.2,-13.9 42.3,-14.5 33.2,-13.8" fill="#ed1c24"/><circle cx="48.9" cy="-11.3" r="2.5" fill="#231f20"/><polygon points="36.9,-7.1 43.0,-1.8 47.5,0.8 49.9,-3.8 45.2,-6.1 37.5,-8.1" fill="#ed1c24"/><circle cx="49.6" cy="-1.0" r="2.5" fill="#231f20"/><polygon points="38.1,-1.2 41.6,5.9 44.7,10.0 48.7,6.8 45.3,2.9 39.1,-2.0" fill="#ed1c24"/><circle cx="47.3" cy="9.2" r="2.5" fill="#231f20"/><circle cx="0" cy="0" r="5" fill="none" stroke="#00a651" stroke-width="1.2"/><path d="M-2.5 -1 L0 1 L2.5 -1 M0 1 V-3" stroke="#231f20" stroke-width="0.8" fill="none"/></g><g transform="translate(1113.36,934.47) rotate(-10)"><polygon points="-40.0,-28.0 -40.0,-11.0 -3.0,-11.0 -3.0,-28.0" fill="#404041"/><polygon points="-3.0,-31.5 5.0,-30.5 20.5,-22.5 21.0,11.0 -1.0,10.0 -4.5,5.0 -4.0,-18.0" fill="#ed1c24" stroke="#231f20" stroke-width="1.9" stroke-linejoin="round"/><polygon points="5.5,-29.0 19.5,-21.5 20.0,-18.0 7.0,-18.0" fill="#ed1c24"/><path d="M6 -30 L6.5 9 M-3.5 -10 L6 -10 M12 -17 L12 6 M6 -2 H20 M-2 -29 L-1.5 6" stroke="#231f20" stroke-width="1.7" fill="none"/><path d="M9 -24 V7 M15.5 -20 V8" stroke="#231f20" stroke-width="1" stroke-dasharray="2 1.5" fill="none"/><path d="M20.7 -22.5 L20.9 11" stroke="#231f20" stroke-width="2.6" fill="none"/><polygon points="21.0,-18.0 26.0,-15.0 27.0,5.0 21.0,6.0" fill="#ed1c24" stroke="#231f20" stroke-width="1.2" stroke-linejoin="round"/><path d="M23.5 -14 V3 M21.5 -6 H27" stroke="#231f20" stroke-width="0.9" stroke-dasharray="1.5 1.5" fill="none"/><polygon points="22.0,-15.0 27.0,-13.5 42.0,14.5 39.5,19.2 36.6,16.0 25.0,3.5 22.0,3.0" fill="#ed1c24" stroke="#231f20" stroke-width="1.1" stroke-linejoin="round"/><circle cx="23.5" cy="-11" r="1.1" fill="#231f20"/><circle cx="25.5" cy="-7" r="1.1" fill="#231f20"/><circle cx="23.5" cy="-3" r="1.1" fill="#231f20"/><circle cx="25.5" cy="1" r="1.1" fill="#231f20"/><circle cx="28" cy="-9" r="1.1" fill="#231f20"/><circle cx="28.5" cy="-3" r="1.1" fill="#231f20"/><circle cx="40.4" cy="17.4" r="2.9" fill="#231f20"/><polygon points="33.0,-12.6 41.7,-9.7 47.6,-8.9 48.2,-13.9 42.3,-14.5 33.2,-13.8" fill="#ed1c24"/><circle cx="48.9" cy="-11.3" r="2.5" fill="#231f20"/><polygon points="36.9,-7.1 43.0,-1.8 47.5,0.8 49.9,-3.8 45.2,-6.1 37.5,-8.1" fill="#ed1c24"/><circle cx="49.6" cy="-1.0" r="2.5" fill="#231f20"/><polygon points="38.1,-1.2 41.6,5.9 44.7,10.0 48.7,6.8 45.3,2.9 39.1,-2.0" fill="#ed1c24"/><circle cx="47.3" cy="9.2" r="2.5" fill="#231f20"/><circle cx="0" cy="0" r="5" fill="none" stroke="#00a651" stroke-width="1.2"/><path d="M-2.5 -1 L0 1 L2.5 -1 M0 1 V-3" stroke="#231f20" stroke-width="0.8" fill="none"/></g><g transform="translate(1125.67,1094.58) rotate(0)"><polygon points="-3.9,-29.8 4.6,-29.4 20.1,-22.1 21.7,-17.4 28.7,-17.4 28.7,18.7 16.6,18.7 16.6,9.0 1.5,9.0 1.5,5.9 -5.9,3.6 -4.0,-20.0" fill="#ed1c24" stroke="#231f20" stroke-width="1.6" stroke-linejoin="round"/><path d="M6.6 -20 L6.6 9 M16.3 -19.6 L16.3 18 M2 -19.6 H29 M11 -15 H16 M11 8 H16 M22 -17 L22 18" stroke="#231f20" stroke-width="2" fill="none"/><circle cx="19" cy="-14" r="0.9" fill="#231f20"/><circle cx="25" cy="-14" r="0.9" fill="#231f20"/><circle cx="19" cy="-6" r="0.9" fill="#231f20"/><circle cx="25" cy="-4" r="0.9" fill="#231f20"/><circle cx="19" cy="3" r="0.9" fill="#231f20"/><circle cx="25" cy="6" r="0.9" fill="#231f20"/><circle cx="19" cy="12" r="0.9" fill="#231f20"/><circle cx="25" cy="14" r="0.9" fill="#231f20"/><polygon points="22.0,-15.0 27.0,-13.5 42.0,14.5 39.5,19.2 36.6,16.0 25.0,3.5 22.0,3.0" fill="#ed1c24" stroke="#231f20" stroke-width="1.1" stroke-linejoin="round"/><circle cx="23.5" cy="-11" r="1.1" fill="#231f20"/><circle cx="25.5" cy="-7" r="1.1" fill="#231f20"/><circle cx="23.5" cy="-3" r="1.1" fill="#231f20"/><circle cx="25.5" cy="1" r="1.1" fill="#231f20"/><circle cx="28" cy="-9" r="1.1" fill="#231f20"/><circle cx="28.5" cy="-3" r="1.1" fill="#231f20"/><circle cx="40.4" cy="17.4" r="2.9" fill="#231f20"/><polygon points="33.0,-12.6 41.7,-9.7 47.6,-8.9 48.2,-13.9 42.3,-14.5 33.2,-13.8" fill="#ed1c24"/><circle cx="48.9" cy="-11.3" r="2.5" fill="#231f20"/><polygon points="36.9,-7.1 43.0,-1.8 47.5,0.8 49.9,-3.8 45.2,-6.1 37.5,-8.1" fill="#ed1c24"/><circle cx="49.6" cy="-1.0" r="2.5" fill="#231f20"/><polygon points="38.1,-1.2 41.6,5.9 44.7,10.0 48.7,6.8 45.3,2.9 39.1,-2.0" fill="#ed1c24"/><circle cx="47.3" cy="9.2" r="2.5" fill="#231f20"/><circle cx="0" cy="0" r="5" fill="none" stroke="#00a651" stroke-width="1.2"/><path d="M-2.5 -1 L0 1 L2.5 -1 M0 1 V-3" stroke="#231f20" stroke-width="0.8" fill="none"/></g></g>
<rect x="406.3" y="116.6" width="54.7" height="34.2" fill="#fff"/><rect x="565.9" y="161.9" width="55.7" height="34.1" fill="#fff"/><rect x="715.6" y="239.2" width="55.1" height="33.7" fill="#fff"/><rect x="854.2" y="344.0" width="56.0" height="33.3" fill="#fff"/><rect x="966.8" y="466.6" width="58.4" height="34.2" fill="#fff"/><rect x="371.4" y="247.5" width="57.6" height="32.6" fill="#fff"/><rect x="511.4" y="288.9" width="56.4" height="33.8" fill="#fff"/><rect x="645.2" y="358.4" width="56.5" height="34.4" fill="#fff"/><rect x="764.0" y="447.2" width="53.0" height="33.7" fill="#fff"/><rect x="865.0" y="561.9" width="55.9" height="33.6" fill="#fff"/><rect x="941.3" y="701.0" width="51.3" height="34.1" fill="#fff"/><rect x="338.1" y="378.8" width="67.1" height="33.6" fill="#fff"/><rect x="462.3" y="418.0" width="65.9" height="33.5" fill="#fff"/><rect x="576.5" y="477.3" width="55.5" height="33.2" fill="#fff"/><rect x="676.1" y="547.5" width="55.6" height="33.3" fill="#fff"/><rect x="757.5" y="637.0" width="56.3" height="33.3" fill="#fff"/><rect x="828.2" y="753.6" width="55.6" height="32.7" fill="#fff"/><rect x="873.1" y="869.0" width="56.7" height="33.5" fill="#fff"/><rect x="902.2" y="985.0" width="55.7" height="34.2" fill="#fff"/><rect x="905.5" y="1107.8" width="56.5" height="33.7" fill="#fff"/><rect x="313.0" y="514.2" width="70.0" height="33.4" fill="#fff"/><rect x="418.3" y="545.2" width="66.3" height="33.4" fill="#fff"/><rect x="511.5" y="596.2" width="64.2" height="33.2" fill="#fff"/><rect x="592.3" y="658.8" width="56.5" height="33.6" fill="#fff"/><rect x="657.3" y="730.0" width="47.7" height="33.6" fill="#fff"/><rect x="709.2" y="817.3" width="50.3" height="33.2" fill="#fff"/><rect x="743.7" y="910.7" width="56.0" height="33.6" fill="#fff"/><rect x="769.5" y="1005.0" width="55.3" height="33.5" fill="#fff"/><rect x="772.2" y="1109.8" width="55.6" height="33.1" fill="#fff"/><rect x="287.2" y="651.0" width="66.5" height="33.2" fill="#fff"/><rect x="355.6" y="675.8" width="66.5" height="32.7" fill="#fff"/><rect x="429.5" y="711.6" width="66.5" height="32.6" fill="#fff"/><rect x="494.5" y="756.0" width="65.9" height="33.3" fill="#fff"/><rect x="550.0" y="814.3" width="62.2" height="33.6" fill="#fff"/><rect x="581.1" y="879.5" width="56.9" height="33.3" fill="#fff"/><rect x="612.7" y="954.7" width="56.0" height="33.3" fill="#fff"/><rect x="627.3" y="1021.1" width="56.3" height="33.8" fill="#fff"/><rect x="633.1" y="1109.8" width="54.9" height="33.1" fill="#fff"/><rect x="237.1" y="788.7" width="67.0" height="35.3" fill="#fff"/><rect x="302.8" y="805.4" width="66.2" height="34.1" fill="#fff"/><rect x="361.1" y="833.8" width="65.4" height="33.6" fill="#fff"/><rect x="403.9" y="866.8" width="66.1" height="34.0" fill="#fff"/><rect x="434.9" y="904.9" width="65.4" height="33.6" fill="#fff"/><rect x="461.0" y="956.2" width="65.7" height="34.0" fill="#fff"/><rect x="482.0" y="1008.4" width="65.0" height="33.8" fill="#fff"/><rect x="488.0" y="1059.5" width="66.4" height="33.8" fill="#fff"/><rect x="487.3" y="1109.9" width="67.7" height="33.9" fill="#fff"/><rect x="1065.1" y="585.9" width="85.1" height="52.2" fill="#fff"/><rect x="1133.2" y="738.1" width="84.4" height="52.0" fill="#fff"/><rect x="1174.9" y="923.2" width="84.6" height="51.5" fill="#fff"/><rect x="1180.7" y="1098.9" width="84.4" height="52.4" fill="#fff"/><rect x="990.2" y="828.0" width="85.3" height="50.7" fill="#fff"/><rect x="1007.3" y="984.5" width="84.9" height="50.7" fill="#fff"/><rect x="1042.5" y="1098.9" width="85.0" height="52.4" fill="#fff"/>
<text x="0.00 19.51 39.03" transform="translate(409.56,147.10) scale(0.8220,1)" font-size="35.09" fill="#00a651">700</text><text x="0.00 19.43 38.87" transform="translate(569.96,192.30) scale(0.8289,1)" font-size="34.94" fill="#00a651">450</text><text x="0.00 19.12 38.23" transform="translate(719.10,269.20) scale(0.8421,1)" font-size="34.37" fill="#00a651">280</text><text x="0.00 18.80 37.59" transform="translate(857.68,373.60) scale(0.8730,1)" font-size="33.80" fill="#00a651">200</text><text x="0.00 12.46 31.97" transform="translate(977.31,497.10) scale(0.7491,1)" font-size="35.09" fill="#00a651"> 70</text><g transform="translate(977.31,497.10) scale(26.2840,35.0881)" fill="#00a651"><polygon points="0.0300,-0.6245 0.1682,-0.6880 0.2714,-0.6880 0.2714,0.0000 0.1237,0.0000 0.1237,-0.5435 0.0300,-0.5522"/></g><text x="0.00 18.24 36.48" transform="translate(374.93,276.40) scale(0.9287,1)" font-size="32.80" fill="#00aeef">800</text><text x="0.00 19.20 38.39" transform="translate(514.81,319.00) scale(0.8633,1)" font-size="34.52" fill="#00aeef">600</text><text x="0.00 19.67 39.35" transform="translate(649.25,389.10) scale(0.8328,1)" font-size="35.37" fill="#00aeef">400</text><text x="0.00 19.12 38.23" transform="translate(766.49,477.20) scale(0.7617,1)" font-size="34.37" fill="#00aeef">270</text><text x="0.00 19.04 38.07" transform="translate(868.22,591.80) scale(0.8291,1)" font-size="34.23" fill="#00aeef">220</text><text x="0.00 12.41 31.84" transform="translate(944.89,731.40) scale(0.8669,1)" font-size="34.94" fill="#00aeef"> 90</text><g transform="translate(944.89,731.40) scale(30.2946,34.9449)" fill="#00aeef"><polygon points="0.0300,-0.6245 0.1682,-0.6880 0.2714,-0.6880 0.2714,0.0000 0.1237,0.0000 0.1237,-0.5435 0.0300,-0.5522"/></g><text x="0.00 12.15 31.19 50.22" transform="translate(341.71,408.70) scale(0.8694,1)" font-size="34.23" fill="#754c24"> 500</text><g transform="translate(341.71,408.70) scale(29.7576,34.2288)" fill="#754c24"><polygon points="0.0300,-0.6245 0.1682,-0.6880 0.2714,-0.6880 0.2714,0.0000 0.1237,0.0000 0.1237,-0.5435 0.0300,-0.5522"/></g><text x="0.00 12.10 31.06 50.01" transform="translate(465.93,447.80) scale(0.8550,1)" font-size="34.09" fill="#754c24"> 300</text><g transform="translate(465.93,447.80) scale(29.1430,34.0856)" fill="#754c24"><polygon points="0.0300,-0.6245 0.1682,-0.6880 0.2714,-0.6880 0.2714,0.0000 0.1237,0.0000 0.1237,-0.5435 0.0300,-0.5522"/></g><text x="0.00 18.72 37.44" transform="translate(580.08,506.80) scale(0.8658,1)" font-size="33.66" fill="#754c24">850</text><text x="0.00 18.80 37.59" transform="translate(679.53,577.10) scale(0.8667,1)" font-size="33.80" fill="#754c24">620</text><text x="0.00 18.80 37.59" transform="translate(761.09,666.60) scale(0.8765,1)" font-size="33.80" fill="#754c24">500</text><text x="0.00 18.32 36.64" transform="translate(832.26,782.60) scale(0.8774,1)" font-size="32.94" fill="#754c24">430</text><text x="0.00 18.96 37.91" transform="translate(876.92,898.80) scale(0.8722,1)" font-size="34.09" fill="#754c24">390</text><text x="0.00 19.51 39.03" transform="translate(906.03,1015.50) scale(0.8295,1)" font-size="35.09" fill="#754c24">360</text><text x="0.00 19.12 38.23" transform="translate(909.32,1137.80) scale(0.8613,1)" font-size="34.37" fill="#754c24">350</text><text x="0.00 12.05 30.93 49.80" transform="translate(319.01,543.90) scale(0.8737,1)" font-size="33.94" fill="#262262"> 500</text><g transform="translate(319.01,543.90) scale(29.6552,33.9424)" fill="#262262"><polygon points="0.0300,-0.6245 0.1682,-0.6880 0.2714,-0.6880 0.2714,0.0000 0.1237,0.0000 0.1237,-0.5435 0.0300,-0.5522"/></g><text x="0.00 12.05 30.93 49.80" transform="translate(421.92,574.90) scale(0.8646,1)" font-size="33.94" fill="#262262"> 500</text><g transform="translate(421.92,574.90) scale(29.3479,33.9424)" fill="#262262"><polygon points="0.0300,-0.6245 0.1682,-0.6880 0.2714,-0.6880 0.2714,0.0000 0.1237,0.0000 0.1237,-0.5435 0.0300,-0.5522"/></g><text x="0.00 11.95 30.67 49.38" transform="translate(515.15,625.70) scale(0.8400,1)" font-size="33.66" fill="#262262"> 250</text><g transform="translate(515.15,625.70) scale(28.2723,33.6559)" fill="#262262"><polygon points="0.0300,-0.6245 0.1682,-0.6880 0.2714,-0.6880 0.2714,0.0000 0.1237,0.0000 0.1237,-0.5435 0.0300,-0.5522"/></g><text x="0.00 19.04 38.07" transform="translate(595.77,688.70) scale(0.8713,1)" font-size="34.23" fill="#262262">900</text><text x="0.00 19.04 31.19" transform="translate(660.60,759.90) scale(0.8173,1)" font-size="34.23" fill="#262262">7 0</text><g transform="translate(660.60,759.90) scale(27.9762,34.2288)" fill="#262262"><polygon points="0.5862,-0.6245 0.7244,-0.6880 0.8276,-0.6880 0.8276,0.0000 0.6799,0.0000 0.6799,-0.5435 0.5862,-0.5522"/></g><text x="0.00 18.72 30.67" transform="translate(712.61,846.80) scale(0.8830,1)" font-size="33.66" fill="#262262">6 0</text><g transform="translate(712.61,846.80) scale(29.7193,33.6559)" fill="#262262"><polygon points="0.5862,-0.6245 0.7244,-0.6880 0.8276,-0.6880 0.8276,0.0000 0.6799,0.0000 0.6799,-0.5435 0.5862,-0.5522"/></g><text x="0.00 19.04 38.07" transform="translate(747.29,940.60) scale(0.8600,1)" font-size="34.23" fill="#262262">560</text><text x="0.00 18.96 37.91" transform="translate(773.11,1034.80) scale(0.8507,1)" font-size="34.09" fill="#262262">530</text><text x="0.00 18.64 37.28" transform="translate(775.80,1139.20) scale(0.8709,1)" font-size="33.51" fill="#262262">520</text><text x="0.00 11.95 30.67 49.38" transform="translate(290.82,680.50) scale(0.8750,1)" font-size="33.66" fill="#be1e2d"> 500</text><g transform="translate(290.82,680.50) scale(29.4503,33.6559)" fill="#be1e2d"><polygon points="0.0300,-0.6245 0.1682,-0.6880 0.2714,-0.6880 0.2714,0.0000 0.1237,0.0000 0.1237,-0.5435 0.0300,-0.5522"/></g><text x="0.00 11.69 30.01 48.33" transform="translate(359.22,704.80) scale(0.8941,1)" font-size="32.94" fill="#be1e2d"> 500</text><g transform="translate(359.22,704.80) scale(29.4503,32.9399)" fill="#be1e2d"><polygon points="0.0300,-0.6245 0.1682,-0.6880 0.2714,-0.6880 0.2714,0.0000 0.1237,0.0000 0.1237,-0.5435 0.0300,-0.5522"/></g><text x="0.00 11.64 29.88 48.12" transform="translate(433.12,740.50) scale(0.8980,1)" font-size="32.80" fill="#be1e2d"> 500</text><g transform="translate(433.12,740.50) scale(29.4503,32.7966)" fill="#be1e2d"><polygon points="0.0300,-0.6245 0.1682,-0.6880 0.2714,-0.6880 0.2714,0.0000 0.1237,0.0000 0.1237,-0.5435 0.0300,-0.5522"/></g><text x="0.00 12.00 30.80 49.59" transform="translate(498.13,785.60) scale(0.8622,1)" font-size="33.80" fill="#be1e2d"> 380</text><g transform="translate(498.13,785.60) scale(29.1430,33.7992)" fill="#be1e2d"><polygon points="0.0300,-0.6245 0.1682,-0.6880 0.2714,-0.6880 0.2714,0.0000 0.1237,0.0000 0.1237,-0.5435 0.0300,-0.5522"/></g><text x="0.00 12.15 24.30 43.34" transform="translate(553.65,844.20) scale(0.8258,1)" font-size="34.23" fill="#be1e2d">  30</text><g transform="translate(553.65,844.20) scale(28.2649,34.2288)" fill="#be1e2d"><polygon points="0.0300,-0.6245 0.1682,-0.6880 0.2714,-0.6880 0.2714,0.0000 0.1237,0.0000 0.1237,-0.5435 0.0300,-0.5522"/><polygon points="0.3850,-0.6245 0.5232,-0.6880 0.6264,-0.6880 0.6264,0.0000 0.4787,0.0000 0.4787,-0.5435 0.3850,-0.5522"/></g><text x="0.00 18.80 37.59" transform="translate(584.56,909.10) scale(0.8898,1)" font-size="33.80" fill="#be1e2d">980</text><text x="0.00 18.80 37.59" transform="translate(616.27,984.30) scale(0.8714,1)" font-size="33.80" fill="#be1e2d">880</text><text x="0.00 19.20 38.39" transform="translate(630.86,1051.20) scale(0.8588,1)" font-size="34.52" fill="#be1e2d">830</text><text x="0.00 18.64 37.28" transform="translate(636.69,1139.20) scale(0.8583,1)" font-size="33.51" fill="#be1e2d">820</text><text x="0.00 13.02 33.41 53.80" transform="translate(240.71,820.30) scale(0.8102,1)" font-size="36.66" fill="#e6007e"> 500</text><g transform="translate(240.71,820.30) scale(29.7064,36.6635)" fill="#e6007e"><polygon points="0.0300,-0.6245 0.1682,-0.6880 0.2714,-0.6880 0.2714,0.0000 0.1237,0.0000 0.1237,-0.5435 0.0300,-0.5522"/></g><text x="0.00 12.41 31.84 51.27" transform="translate(306.42,835.80) scale(0.8384,1)" font-size="34.94" fill="#e6007e"> 500</text><g transform="translate(306.42,835.80) scale(29.2967,34.9449)" fill="#e6007e"><polygon points="0.0300,-0.6245 0.1682,-0.6880 0.2714,-0.6880 0.2714,0.0000 0.1237,0.0000 0.1237,-0.5435 0.0300,-0.5522"/></g><text x="0.00 12.15 31.19 50.22" transform="translate(364.73,863.70) scale(0.8439,1)" font-size="34.23" fill="#e6007e"> 500</text><g transform="translate(364.73,863.70) scale(28.8869,34.2288)" fill="#e6007e"><polygon points="0.0300,-0.6245 0.1682,-0.6880 0.2714,-0.6880 0.2714,0.0000 0.1237,0.0000 0.1237,-0.5435 0.0300,-0.5522"/></g><text x="0.00 12.35 31.71 51.06" transform="translate(407.52,897.10) scale(0.8403,1)" font-size="34.80" fill="#e6007e"> 500</text><g transform="translate(407.52,897.10) scale(29.2454,34.8017)" fill="#e6007e"><polygon points="0.0300,-0.6245 0.1682,-0.6880 0.2714,-0.6880 0.2714,0.0000 0.1237,0.0000 0.1237,-0.5435 0.0300,-0.5522"/></g><text x="0.00 12.15 31.19 50.22" transform="translate(438.53,934.80) scale(0.8439,1)" font-size="34.23" fill="#e6007e"> 500</text><g transform="translate(438.53,934.80) scale(28.8869,34.2288)" fill="#e6007e"><polygon points="0.0300,-0.6245 0.1682,-0.6880 0.2714,-0.6880 0.2714,0.0000 0.1237,0.0000 0.1237,-0.5435 0.0300,-0.5522"/></g><text x="0.00 12.35 31.71 51.06" transform="translate(464.63,986.50) scale(0.8345,1)" font-size="34.80" fill="#e6007e"> 500</text><g transform="translate(464.63,986.50) scale(29.0406,34.8017)" fill="#e6007e"><polygon points="0.0300,-0.6245 0.1682,-0.6880 0.2714,-0.6880 0.2714,0.0000 0.1237,0.0000 0.1237,-0.5435 0.0300,-0.5522"/></g><text x="0.00 12.25 31.45 50.64" transform="translate(485.64,1038.50) scale(0.8310,1)" font-size="34.52" fill="#e6007e"> 500</text><g transform="translate(485.64,1038.50) scale(28.6820,34.5152)" fill="#e6007e"><polygon points="0.0300,-0.6245 0.1682,-0.6880 0.2714,-0.6880 0.2714,0.0000 0.1237,0.0000 0.1237,-0.5435 0.0300,-0.5522"/></g><text x="0.00 12.25 31.45 50.64" transform="translate(491.62,1089.60) scale(0.8518,1)" font-size="34.52" fill="#e6007e"> 500</text><g transform="translate(491.62,1089.60) scale(29.3991,34.5152)" fill="#e6007e"><polygon points="0.0300,-0.6245 0.1682,-0.6880 0.2714,-0.6880 0.2714,0.0000 0.1237,0.0000 0.1237,-0.5435 0.0300,-0.5522"/></g><text x="0.00 12.30 31.58 50.85" transform="translate(490.90,1140.10) scale(0.8675,1)" font-size="34.66" fill="#e6007e"> 500</text><g transform="translate(490.90,1140.10) scale(30.0649,34.6585)" fill="#e6007e"><polygon points="0.0300,-0.6245 0.1682,-0.6880 0.2714,-0.6880 0.2714,0.0000 0.1237,0.0000 0.1237,-0.5435 0.0300,-0.5522"/></g><text x="0.00 18.80 37.59" transform="translate(372.97,223.70) scale(0.8665,1)" font-size="33.80" fill="#231f20">80°</text><text x="0.00 19.12 38.23" transform="translate(521.26,271.80) scale(0.8363,1)" font-size="34.37" fill="#231f20">70°</text><text x="0.00 18.96 37.91" transform="translate(660.72,344.50) scale(0.8683,1)" font-size="34.09" fill="#231f20">60°</text><text x="0.00 18.80 37.59" transform="translate(784.10,438.70) scale(0.8659,1)" font-size="33.80" fill="#231f20">50°</text><text x="0.00 18.32 36.64" transform="translate(892.88,556.40) scale(0.8497,1)" font-size="32.94" fill="#231f20">40°</text><text x="0.00 18.56 37.12" transform="translate(975.24,687.60) scale(0.8578,1)" font-size="33.37" fill="#231f20">30°</text><text x="0.00 18.16 36.32" transform="translate(1034.89,827.40) scale(0.8902,1)" font-size="32.65" fill="#231f20">20°</text><text x="0.00 12.05 30.93" transform="translate(1073.04,978.60) scale(0.8448,1)" font-size="33.94" fill="#231f20"> 0°</text><g transform="translate(1073.04,978.60) scale(28.6733,33.9424)" fill="#231f20"><polygon points="0.0300,-0.6245 0.1682,-0.6880 0.2714,-0.6880 0.2714,0.0000 0.1237,0.0000 0.1237,-0.5435 0.0300,-0.5522"/></g><text x="0.00 18.64" transform="translate(1133.45,1151.60) scale(0.8642,1)" font-size="33.51" fill="#231f20">0°</text><text x="0.00 15.51 32.22" transform="translate(1090.84,608.90) scale(0.7372,1)" font-size="21.48" fill="#00a651">NOT</text><text x="0.00 15.72 29.02 42.32 59.25 79.79 94.31" transform="translate(1066.71,630.10) scale(0.7285,1)" font-size="21.77" fill="#00a651">ALLOWED</text><text x="0.00 16.03 33.30" transform="translate(1158.62,761.60) scale(0.7245,1)" font-size="22.20" fill="#00a651">NOT</text><text x="0.00 15.20 28.06 40.92 57.30 77.17 91.21" transform="translate(1134.81,782.10) scale(0.7466,1)" font-size="21.05" fill="#00a651">ALLOWED</text><text x="0.00 15.62 32.44" transform="translate(1199.53,946.30) scale(0.7414,1)" font-size="21.63" fill="#00a651">NOT</text><text x="0.00 14.79 27.30 39.81 55.74 75.07 88.73" transform="translate(1176.51,966.70) scale(0.7695,1)" font-size="20.48" fill="#00a651">ALLOWED</text><text x="0.00 15.41 32.01" transform="translate(1204.66,1121.80) scale(0.7306,1)" font-size="21.34" fill="#00a651">NOT</text><text x="0.00 14.79 27.30 39.81 55.74 75.07 88.73" transform="translate(1182.31,1143.30) scale(0.7675,1)" font-size="20.48" fill="#00a651">ALLOWED</text><text x="0.00 16.03 33.30" transform="translate(1014.38,851.50) scale(0.7511,1)" font-size="22.20" fill="#00aeef">NOT</text><text x="0.00 15.62 28.83 42.04 58.86 79.27 93.69" transform="translate(991.80,870.70) scale(0.7352,1)" font-size="21.63" fill="#00aeef">ALLOWED</text><text x="0.00 15.62 32.44" transform="translate(1031.96,1007.60) scale(0.7164,1)" font-size="21.63" fill="#00aeef">NOT</text><text x="0.00 16.03 29.59 43.15 60.42 81.37 96.18" transform="translate(1008.91,1027.20) scale(0.7126,1)" font-size="22.20" fill="#00aeef">ALLOWED</text><text x="0.00 15.41 32.01" transform="translate(1067.76,1121.80) scale(0.7283,1)" font-size="21.34" fill="#00aeef">NOT</text><text x="0.00 14.79 27.30 39.81 55.74 75.07 88.73" transform="translate(1044.11,1143.30) scale(0.7734,1)" font-size="20.48" fill="#00aeef">ALLOWED</text>
<circle cx="397.4" cy="154.8" r="8" fill="#00a651"/><circle cx="557.6" cy="202.6" r="8" fill="#00a651"/><circle cx="708.9" cy="277.2" r="8" fill="#00a651"/><circle cx="843.1" cy="375.2" r="8" fill="#00a651"/><circle cx="958.2" cy="496.9" r="8" fill="#00a651"/><circle cx="1050.2" cy="636.8" r="8" fill="#00a651"/><circle cx="1117.6" cy="791.1" r="8" fill="#00a651"/><circle cx="1157.3" cy="954.5" r="8" fill="#00a651"/><circle cx="1167.2" cy="1122" r="8" fill="#00a651"/><circle cx="373.7" cy="289" r="8" fill="#00aeef"/><circle cx="510.5" cy="331.4" r="8" fill="#00aeef"/><circle cx="640.3" cy="395.7" r="8" fill="#00aeef"/><circle cx="755" cy="479.7" r="8" fill="#00aeef"/><circle cx="853.7" cy="585" r="8" fill="#00aeef"/><circle cx="932" cy="704.6" r="8" fill="#00aeef"/><circle cx="988.9" cy="838" r="8" fill="#00aeef"/><circle cx="1022.8" cy="977.8" r="8" fill="#00aeef"/><circle cx="1030.9" cy="1122.1" r="8" fill="#00aeef"/><circle cx="349.6" cy="423.4" r="8" fill="#754c24"/><circle cx="464.2" cy="459.1" r="8" fill="#754c24"/><circle cx="572.4" cy="513.9" r="8" fill="#754c24"/><circle cx="667.2" cy="584.4" r="8" fill="#754c24"/><circle cx="748.7" cy="673" r="8" fill="#754c24"/><circle cx="813.3" cy="773" r="8" fill="#754c24"/><circle cx="860.7" cy="885.8" r="8" fill="#754c24"/><circle cx="887.9" cy="1001.8" r="8" fill="#754c24"/><circle cx="894.2" cy="1122.1" r="8" fill="#754c24"/><circle cx="326" cy="558.4" r="8" fill="#262262"/><circle cx="416.9" cy="587.3" r="8" fill="#262262"/><circle cx="504" cy="631.6" r="8" fill="#262262"/><circle cx="579.7" cy="689.1" r="8" fill="#262262"/><circle cx="644.5" cy="760.9" r="8" fill="#262262"/><circle cx="695.2" cy="840.8" r="8" fill="#262262"/><circle cx="732.4" cy="931.4" r="8" fill="#262262"/><circle cx="753.4" cy="1025.3" r="8" fill="#262262"/><circle cx="757" cy="1121.7" r="8" fill="#262262"/><circle cx="301.6" cy="696.2" r="8" fill="#be1e2d"/><circle cx="369.4" cy="719.2" r="8" fill="#be1e2d"/><circle cx="433.7" cy="753.4" r="8" fill="#be1e2d"/><circle cx="489" cy="794.7" r="8" fill="#be1e2d"/><circle cx="536.6" cy="850.5" r="8" fill="#be1e2d"/><circle cx="573.5" cy="911" r="8" fill="#be1e2d"/><circle cx="600.4" cy="980.1" r="8" fill="#be1e2d"/><circle cx="615.3" cy="1049.7" r="8" fill="#be1e2d"/><circle cx="617.1" cy="1121.7" r="8" fill="#be1e2d"/><circle cx="277" cy="835" r="8" fill="#e6007e"/><circle cx="320.9" cy="851.3" r="8" fill="#e6007e"/><circle cx="363.7" cy="875.8" r="8" fill="#e6007e"/><circle cx="398.6" cy="904.1" r="8" fill="#e6007e"/><circle cx="428.9" cy="940.6" r="8" fill="#e6007e"/><circle cx="452.3" cy="981.4" r="8" fill="#e6007e"/><circle cx="469" cy="1027.5" r="8" fill="#e6007e"/><circle cx="476.5" cy="1074.7" r="8" fill="#e6007e"/><circle cx="476.5" cy="1122.4" r="8" fill="#e6007e"/>
<circle cx="199.2" cy="172.7" r="13.7" fill="#00a651"/><text x="0.00" transform="translate(193.44,181.90) scale(0.8598,1)" font-size="24.06" fill="#fff">6</text><circle cx="199.5" cy="313" r="13.7" fill="#00aeef"/><text x="0.00" transform="translate(193.72,322.20) scale(0.8472,1)" font-size="24.42" fill="#fff">5</text><circle cx="199.6" cy="467.6" r="13.7" fill="#754c24"/><text x="0.00" transform="translate(193.75,476.80) scale(0.8472,1)" font-size="24.42" fill="#fff">4</text><circle cx="199.9" cy="617.5" r="13.7" fill="#262262"/><text x="0.00" transform="translate(194.28,626.70) scale(0.8598,1)" font-size="24.06" fill="#fff">3</text><circle cx="200.7" cy="746.7" r="13.7" fill="#be1e2d"/><text x="0.00" transform="translate(195.00,755.90) scale(0.8598,1)" font-size="24.06" fill="#fff">2</text><circle cx="199.2" cy="882.6" r="13.7" fill="#e6007e"/><g transform="translate(196.08,891.80) scale(20.6869,24.4186)" fill="#fff"><polygon points="0.0300,-0.6245 0.1682,-0.6880 0.2714,-0.6880 0.2714,0.0000 0.1237,0.0000 0.1237,-0.5435 0.0300,-0.5522"/></g><circle cx="432.4" cy="1203.7" r="13.7" fill="#e6007e"/><g transform="translate(429.28,1212.90) scale(20.6869,24.4186)" fill="#fff"><polygon points="0.0300,-0.6245 0.1682,-0.6880 0.2714,-0.6880 0.2714,0.0000 0.1237,0.0000 0.1237,-0.5435 0.0300,-0.5522"/></g><circle cx="555.5" cy="1203.7" r="13.7" fill="#be1e2d"/><text x="0.00" transform="translate(549.80,1212.90) scale(0.8598,1)" font-size="24.06" fill="#fff">2</text><circle cx="695.4" cy="1203.7" r="13.7" fill="#262262"/><text x="0.00" transform="translate(689.78,1212.90) scale(0.8598,1)" font-size="24.06" fill="#fff">3</text><circle cx="838.3" cy="1203.7" r="13.7" fill="#754c24"/><text x="0.00" transform="translate(832.45,1212.90) scale(0.8472,1)" font-size="24.42" fill="#fff">4</text><circle cx="986.6" cy="1204.3" r="13.7" fill="#00aeef"/><text x="0.00" transform="translate(980.82,1213.50) scale(0.8472,1)" font-size="24.42" fill="#fff">5</text><circle cx="1136.2" cy="1204.3" r="13.7" fill="#00a651"/><text x="0.00" transform="translate(1130.44,1213.50) scale(0.8598,1)" font-size="24.06" fill="#fff">6</text>
<text x="0.00 13.99" transform="translate(156.26,1228.90) scale(0.8142,1)" font-size="42.01" fill="#231f20">- </text><g transform="translate(156.26,1228.90) scale(34.2004,42.0058)" fill="#231f20"><polygon points="0.3630,-0.6245 0.5012,-0.6880 0.6044,-0.6880 0.6044,0.0000 0.4567,0.0000 0.4567,-0.5435 0.3630,-0.5522"/></g><g transform="translate(156.57,1111.90) scale(34.2004,42.0058)" fill="#231f20"><polygon points="0.0300,-0.6245 0.1682,-0.6880 0.2714,-0.6880 0.2714,0.0000 0.1237,0.0000 0.1237,-0.5435 0.0300,-0.5522"/></g><text x="0.00" transform="translate(156.41,1052.90) scale(0.8263,1)" font-size="41.39" fill="#231f20">2</text><text x="0.00" transform="translate(156.82,994.90) scale(0.8263,1)" font-size="41.39" fill="#231f20">3</text><text x="0.00" transform="translate(157.08,935.90) scale(0.8142,1)" font-size="42.01" fill="#231f20">4</text><text x="0.00" transform="translate(156.55,876.90) scale(0.8142,1)" font-size="42.01" fill="#231f20">5</text><text x="0.00" transform="translate(156.35,818.90) scale(0.8263,1)" font-size="41.39" fill="#231f20">6</text><text x="0.00" transform="translate(156.13,759.90) scale(0.8142,1)" font-size="42.01" fill="#231f20">7</text><text x="0.00" transform="translate(156.51,700.90) scale(0.8263,1)" font-size="41.39" fill="#231f20">8</text><text x="0.00" transform="translate(156.41,642.90) scale(0.8263,1)" font-size="41.39" fill="#231f20">9</text><text x="0.00 14.69" transform="translate(156.57,583.90) scale(0.8263,1)" font-size="41.39" fill="#231f20"> 0</text><g transform="translate(156.57,583.90) scale(34.2004,41.3897)" fill="#231f20"><polygon points="0.0300,-0.6245 0.1682,-0.6880 0.2714,-0.6880 0.2714,0.0000 0.1237,0.0000 0.1237,-0.5435 0.0300,-0.5522"/></g><g transform="translate(156.57,524.90) scale(34.2004,42.0058)" fill="#231f20"><polygon points="0.0300,-0.6245 0.1682,-0.6880 0.2714,-0.6880 0.2714,0.0000 0.1237,0.0000 0.1237,-0.5435 0.0300,-0.5522"/><polygon points="0.3850,-0.6245 0.5232,-0.6880 0.6264,-0.6880 0.6264,0.0000 0.4787,0.0000 0.4787,-0.5435 0.3850,-0.5522"/></g><text x="0.00 14.69" transform="translate(156.57,466.90) scale(0.8263,1)" font-size="41.39" fill="#231f20"> 2</text><g transform="translate(156.57,466.90) scale(34.2004,41.3897)" fill="#231f20"><polygon points="0.0300,-0.6245 0.1682,-0.6880 0.2714,-0.6880 0.2714,0.0000 0.1237,0.0000 0.1237,-0.5435 0.0300,-0.5522"/></g><text x="0.00 14.69" transform="translate(156.57,407.90) scale(0.8263,1)" font-size="41.39" fill="#231f20"> 3</text><g transform="translate(156.57,407.90) scale(34.2004,41.3897)" fill="#231f20"><polygon points="0.0300,-0.6245 0.1682,-0.6880 0.2714,-0.6880 0.2714,0.0000 0.1237,0.0000 0.1237,-0.5435 0.0300,-0.5522"/></g><text x="0.00 14.91" transform="translate(156.57,348.90) scale(0.8142,1)" font-size="42.01" fill="#231f20"> 4</text><g transform="translate(156.57,348.90) scale(34.2004,42.0058)" fill="#231f20"><polygon points="0.0300,-0.6245 0.1682,-0.6880 0.2714,-0.6880 0.2714,0.0000 0.1237,0.0000 0.1237,-0.5435 0.0300,-0.5522"/></g><text x="0.00 14.91" transform="translate(156.57,290.90) scale(0.8142,1)" font-size="42.01" fill="#231f20"> 5</text><g transform="translate(156.57,290.90) scale(34.2004,42.0058)" fill="#231f20"><polygon points="0.0300,-0.6245 0.1682,-0.6880 0.2714,-0.6880 0.2714,0.0000 0.1237,0.0000 0.1237,-0.5435 0.0300,-0.5522"/></g><text x="0.00 14.69" transform="translate(156.57,231.90) scale(0.8263,1)" font-size="41.39" fill="#231f20"> 6</text><g transform="translate(156.57,231.90) scale(34.2004,41.3897)" fill="#231f20"><polygon points="0.0300,-0.6245 0.1682,-0.6880 0.2714,-0.6880 0.2714,0.0000 0.1237,0.0000 0.1237,-0.5435 0.0300,-0.5522"/></g><text x="0.00 14.91" transform="translate(156.57,172.90) scale(0.8142,1)" font-size="42.01" fill="#231f20"> 7</text><g transform="translate(156.57,172.90) scale(34.2004,42.0058)" fill="#231f20"><polygon points="0.0300,-0.6245 0.1682,-0.6880 0.2714,-0.6880 0.2714,0.0000 0.1237,0.0000 0.1237,-0.5435 0.0300,-0.5522"/></g><text x="0.00 14.69" transform="translate(156.57,114.90) scale(0.8263,1)" font-size="41.39" fill="#231f20"> 8</text><g transform="translate(156.57,114.90) scale(34.2004,41.3897)" fill="#231f20"><polygon points="0.0300,-0.6245 0.1682,-0.6880 0.2714,-0.6880 0.2714,0.0000 0.1237,0.0000 0.1237,-0.5435 0.0300,-0.5522"/></g><text x="0.00 14.69" transform="translate(156.57,55.90) scale(0.8263,1)" font-size="41.39" fill="#231f20"> 9</text><g transform="translate(156.57,55.90) scale(34.2004,41.3897)" fill="#231f20"><polygon points="0.0300,-0.6245 0.1682,-0.6880 0.2714,-0.6880 0.2714,0.0000 0.1237,0.0000 0.1237,-0.5435 0.0300,-0.5522"/></g><text x="0.00" transform="translate(205.99,1279.60) scale(0.8292,1)" font-size="41.25" fill="#231f20">0</text><g transform="translate(268.43,1279.60) scale(34.2004,41.8605)" fill="#231f20"><polygon points="0.0300,-0.6245 0.1682,-0.6880 0.2714,-0.6880 0.2714,0.0000 0.1237,0.0000 0.1237,-0.5435 0.0300,-0.5522"/></g><text x="0.00" transform="translate(322.99,1279.60) scale(0.8292,1)" font-size="41.25" fill="#231f20">2</text><text x="0.00" transform="translate(381.99,1279.60) scale(0.8292,1)" font-size="41.25" fill="#231f20">3</text><text x="0.00" transform="translate(440.99,1279.60) scale(0.8170,1)" font-size="41.86" fill="#231f20">4</text><text x="0.00" transform="translate(498.99,1279.60) scale(0.8170,1)" font-size="41.86" fill="#231f20">5</text><text x="0.00" transform="translate(557.99,1279.60) scale(0.8292,1)" font-size="41.25" fill="#231f20">6</text><text x="0.00" transform="translate(616.99,1279.60) scale(0.8170,1)" font-size="41.86" fill="#231f20">7</text><text x="0.00" transform="translate(674.99,1279.60) scale(0.8292,1)" font-size="41.25" fill="#231f20">8</text><text x="0.00" transform="translate(733.99,1279.60) scale(0.8292,1)" font-size="41.25" fill="#231f20">9</text><text x="0.00 14.64" transform="translate(785.92,1279.60) scale(0.8292,1)" font-size="41.25" fill="#231f20"> 0</text><g transform="translate(785.92,1279.60) scale(34.2004,41.2464)" fill="#231f20"><polygon points="0.0300,-0.6245 0.1682,-0.6880 0.2714,-0.6880 0.2714,0.0000 0.1237,0.0000 0.1237,-0.5435 0.0300,-0.5522"/></g><g transform="translate(848.36,1279.60) scale(34.2004,41.8605)" fill="#231f20"><polygon points="0.0300,-0.6245 0.1682,-0.6880 0.2714,-0.6880 0.2714,0.0000 0.1237,0.0000 0.1237,-0.5435 0.0300,-0.5522"/><polygon points="0.3850,-0.6245 0.5232,-0.6880 0.6264,-0.6880 0.6264,0.0000 0.4787,0.0000 0.4787,-0.5435 0.3850,-0.5522"/></g><text x="0.00 14.64" transform="translate(903.92,1279.60) scale(0.8292,1)" font-size="41.25" fill="#231f20"> 2</text><g transform="translate(903.92,1279.60) scale(34.2004,41.2464)" fill="#231f20"><polygon points="0.0300,-0.6245 0.1682,-0.6880 0.2714,-0.6880 0.2714,0.0000 0.1237,0.0000 0.1237,-0.5435 0.0300,-0.5522"/></g><text x="0.00 14.64" transform="translate(961.92,1279.60) scale(0.8292,1)" font-size="41.25" fill="#231f20"> 3</text><g transform="translate(961.92,1279.60) scale(34.2004,41.2464)" fill="#231f20"><polygon points="0.0300,-0.6245 0.1682,-0.6880 0.2714,-0.6880 0.2714,0.0000 0.1237,0.0000 0.1237,-0.5435 0.0300,-0.5522"/></g><text x="0.00 14.86" transform="translate(1020.92,1279.60) scale(0.8170,1)" font-size="41.86" fill="#231f20"> 4</text><g transform="translate(1020.92,1279.60) scale(34.2004,41.8605)" fill="#231f20"><polygon points="0.0300,-0.6245 0.1682,-0.6880 0.2714,-0.6880 0.2714,0.0000 0.1237,0.0000 0.1237,-0.5435 0.0300,-0.5522"/></g><text x="0.00 14.86" transform="translate(1079.92,1279.60) scale(0.8170,1)" font-size="41.86" fill="#231f20"> 5</text><g transform="translate(1079.92,1279.60) scale(34.2004,41.8605)" fill="#231f20"><polygon points="0.0300,-0.6245 0.1682,-0.6880 0.2714,-0.6880 0.2714,0.0000 0.1237,0.0000 0.1237,-0.5435 0.0300,-0.5522"/></g><text x="0.00 14.64" transform="translate(1137.92,1279.60) scale(0.8292,1)" font-size="41.25" fill="#231f20"> 6</text><g transform="translate(1137.92,1279.60) scale(34.2004,41.2464)" fill="#231f20"><polygon points="0.0300,-0.6245 0.1682,-0.6880 0.2714,-0.6880 0.2714,0.0000 0.1237,0.0000 0.1237,-0.5435 0.0300,-0.5522"/></g><text x="0.00 14.86" transform="translate(1196.92,1279.60) scale(0.8170,1)" font-size="41.86" fill="#231f20"> 7</text><g transform="translate(1196.92,1279.60) scale(34.2004,41.8605)" fill="#231f20"><polygon points="0.0300,-0.6245 0.1682,-0.6880 0.2714,-0.6880 0.2714,0.0000 0.1237,0.0000 0.1237,-0.5435 0.0300,-0.5522"/></g><text x="0.00" transform="translate(66.47,141.70) scale(0.8367,1)" font-size="34.30" fill="#231f20">(</text><g transform="translate(76.34,141.70) scale(28.5833,34.3023)" fill="#231f20"><polygon points="0.0300,-0.6245 0.1682,-0.6880 0.2714,-0.6880 0.2714,0.0000 0.1237,0.0000 0.1237,-0.5435 0.0300,-0.5522"/></g><text x="0.00" transform="translate(85.74,141.70) scale(0.7890,1)" font-size="34.30" fill="#231f20">7</text><text x="0.00" transform="translate(99.28,141.70) scale(0.8264,1)" font-size="34.30" fill="#231f20">.</text><text x="0.00" transform="translate(107.45,141.70) scale(0.8027,1)" font-size="34.30" fill="#231f20">5</text><text x="0.00" transform="translate(123.77,141.70) scale(0.8367,1)" font-size="34.30" fill="#231f20">)</text>
<text x="0.00 53.37 87.90 109.91 141.35 157.06 191.60 226.14 241.85 282.68 314.13 348.66 364.37 398.91 430.36 446.07 464.90 515.17" transform="translate(513.16,1344.30) scale(0.7625,1)" font-size="56.54" fill="#231f20">Working Radius (m)</text>
<g transform="translate(0,0)"><g transform="rotate(-90 0 0)"><text x="0.00 40.62 74.98 109.34 140.63 156.26 196.88 228.16 243.79 278.15 312.51 331.24 346.87 365.60 387.49 421.85 471.87 487.50 531.25 553.14 587.50 621.86 656.22 690.58 706.21 724.95 774.96" transform="translate(-914.66,115.90) scale(0.7612,1)" font-size="56.25" fill="#231f20">Hook Height from Ground (m)</text></g></g>
</svg></body></html>
